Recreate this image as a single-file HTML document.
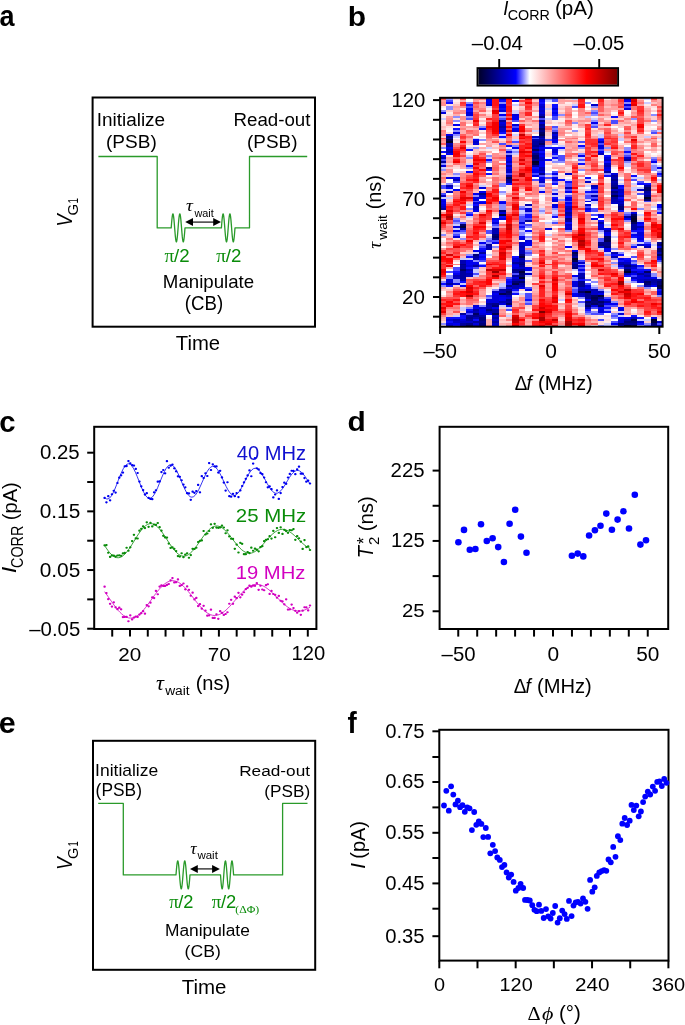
<!DOCTYPE html><html><head><meta charset="utf-8"><style>html,body{margin:0;padding:0;background:#fff;overflow:hidden}svg{display:block;will-change:transform}</style></head><body><svg width="685" height="1025" viewBox="0 0 685 1025" font-family='"Liberation Sans", sans-serif'><text transform="translate(-0.61,26.30) scale(0.8919,1)" font-size="30.32" fill="#000" font-weight="bold">a</text>
<text transform="translate(347.76,26.02) scale(1.0515,1)" font-size="28.44" fill="#000" font-weight="bold">b</text>
<text transform="translate(-0.77,431.50) scale(0.9853,1)" font-size="29.77" fill="#000" font-weight="bold">c</text>
<text transform="translate(347.50,431.41) scale(1.0465,1)" font-size="28.57" fill="#000" font-weight="bold">d</text>
<text transform="translate(-1.22,732.70) scale(1.0296,1)" font-size="29.59" fill="#000" font-weight="bold">e</text>
<text transform="translate(347.61,732.80) scale(0.9569,1)" font-size="28.97" fill="#000" font-weight="bold">f</text>
<rect x="92.60" y="97.50" width="222.40" height="229.20" fill="none" stroke="#000" stroke-width="2.00"/>
<text transform="translate(96.64,126.22) scale(1.0649,1)" font-size="17.82" fill="#000">Initialize</text>
<text transform="translate(106.01,148.42) scale(1.0453,1)" font-size="18.23" fill="#000">(PSB)</text>
<text transform="translate(233.45,126.22) scale(1.0517,1)" font-size="17.82" fill="#000">Read-out</text>
<text transform="translate(247.02,148.42) scale(1.0389,1)" font-size="18.23" fill="#000">(PSB)</text>
<path d="M98.4,156.5 H157.2 V227.9 H171.2 L171.20,227.90 L171.54,223.57 L171.89,219.67 L172.23,216.57 L172.58,214.59 L172.92,213.90 L173.27,214.59 L173.61,216.57 L173.96,219.67 L174.30,223.57 L174.65,227.90 L175.00,232.23 L175.34,236.13 L175.69,239.23 L176.03,241.21 L176.38,241.90 L176.72,241.21 L177.06,239.23 L177.41,236.13 L177.75,232.23 L178.10,227.90 L178.44,223.57 L178.79,219.67 L179.13,216.57 L179.48,214.59 L179.82,213.90 L180.17,214.59 L180.51,216.57 L180.86,219.67 L181.20,223.57 L181.55,227.90 L181.90,232.23 L182.24,236.13 L182.59,239.23 L182.93,241.21 L183.28,241.90 L183.62,241.21 L183.97,239.23 L184.31,236.13 L184.66,232.23 L185.00,227.90 H221.4 L221.40,227.90 L221.74,223.57 L222.08,219.67 L222.42,216.57 L222.76,214.59 L223.10,213.90 L223.44,214.59 L223.78,216.57 L224.12,219.67 L224.46,223.57 L224.80,227.90 L225.14,232.23 L225.48,236.13 L225.82,239.23 L226.16,241.21 L226.50,241.90 L226.84,241.21 L227.18,239.23 L227.52,236.13 L227.86,232.23 L228.20,227.90 L228.54,223.57 L228.88,219.67 L229.22,216.57 L229.56,214.59 L229.90,213.90 L230.24,214.59 L230.58,216.57 L230.92,219.67 L231.26,223.57 L231.60,227.90 L231.94,232.23 L232.28,236.13 L232.62,239.23 L232.96,241.21 L233.30,241.90 L233.64,241.21 L233.98,239.23 L234.32,236.13 L234.66,232.23 L235.00,227.90 H249.5 V156.5 H307.2" fill="none" stroke="#2a9a2a" stroke-width="1.3" stroke-linejoin="round"/>
<line x1="192.00" y1="222.10" x2="214.20" y2="222.10" stroke="#222" stroke-width="1.3"/>
<path d="M185.20,222.10 L193.00,218.10 L193.00,226.10 Z M221.00,222.10 L213.20,218.10 L213.20,226.10 Z" fill="#000"/>
<text transform="translate(186.07,210.93) scale(1.1410,1)" font-size="16.81" fill="#000" font-family="Liberation Serif" font-style="italic">τ</text>
<text transform="translate(194.43,216.79) scale(0.9880,1)" font-size="11.02" fill="#000">wait</text>
<text transform="translate(164.56,261.51) scale(1.0062,1)" font-size="19.15" fill="#0a8c0a" font-family="Liberation Serif">π</text>
<text transform="translate(174.00,261.51) scale(1.0010,1)" font-size="18.64" fill="#0a8c0a">/2</text>
<text transform="translate(216.36,261.51) scale(1.0062,1)" font-size="19.15" fill="#0a8c0a" font-family="Liberation Serif">π</text>
<text transform="translate(225.80,261.51) scale(1.0010,1)" font-size="18.64" fill="#0a8c0a">/2</text>
<text transform="translate(162.86,288.25) scale(1.0620,1)" font-size="17.59" fill="#000">Manipulate</text>
<text transform="translate(184.84,310.45) scale(0.9545,1)" font-size="19.52" fill="#000">(CB)</text>
<text transform="translate(175.84,350.21) scale(1.0499,1)" font-size="19.32" fill="#000">Time</text>
<text transform="translate(71.90,226.65) rotate(-90) scale(0.8702,1)" font-size="21.67" fill="#000" font-style="italic">V</text>
<text transform="translate(77.75,215.45) rotate(-90) scale(0.9931,1)" font-size="15.12" fill="#000">G</text>
<text transform="translate(77.70,203.53) rotate(-90) scale(0.6813,1)" font-size="14.25" fill="#000">1</text>
<rect x="93.00" y="740.80" width="222.20" height="229.00" fill="none" stroke="#000" stroke-width="2.00"/>
<text transform="translate(95.08,776.23) scale(1.0199,1)" font-size="17.14" fill="#000">Initialize</text>
<text transform="translate(95.61,796.22) scale(0.9527,1)" font-size="18.23" fill="#000">(PSB)</text>
<text transform="translate(239.18,775.65) scale(1.1206,1)" font-size="15.37" fill="#000">Read-out</text>
<text transform="translate(264.33,796.81) scale(1.0199,1)" font-size="16.84" fill="#000">(PSB)</text>
<path d="M98.2,803.4 H123.3 V874.9 H176.0 L176.00,874.90 L176.35,870.57 L176.70,866.67 L177.05,863.57 L177.40,861.59 L177.75,860.90 L178.10,861.59 L178.45,863.57 L178.80,866.67 L179.15,870.57 L179.50,874.90 L179.85,879.23 L180.20,883.13 L180.55,886.23 L180.90,888.21 L181.25,888.90 L181.60,888.21 L181.95,886.23 L182.30,883.13 L182.65,879.23 L183.00,874.90 L183.35,870.57 L183.70,866.67 L184.05,863.57 L184.40,861.59 L184.75,860.90 L185.10,861.59 L185.45,863.57 L185.80,866.67 L186.15,870.57 L186.50,874.90 L186.85,879.23 L187.20,883.13 L187.55,886.23 L187.90,888.21 L188.25,888.90 L188.60,888.21 L188.95,886.23 L189.30,883.13 L189.65,879.23 L190.00,874.90 H220.5 L220.50,874.90 L220.83,879.23 L221.16,883.13 L221.48,886.23 L221.81,888.21 L222.14,888.90 L222.47,888.21 L222.79,886.23 L223.12,883.13 L223.45,879.23 L223.78,874.90 L224.10,870.57 L224.43,866.67 L224.76,863.57 L225.09,861.59 L225.41,860.90 L225.74,861.59 L226.07,863.57 L226.40,866.67 L226.72,870.57 L227.05,874.90 L227.38,879.23 L227.70,883.13 L228.03,886.23 L228.36,888.21 L228.69,888.90 L229.01,888.21 L229.34,886.23 L229.67,883.13 L230.00,879.23 L230.32,874.90 L230.65,870.57 L230.98,866.67 L231.31,863.57 L231.63,861.59 L231.96,860.90 L232.29,861.59 L232.62,863.57 L232.94,866.67 L233.27,870.57 L233.60,874.90 H282.6 V803.4 H307.5" fill="none" stroke="#2a9a2a" stroke-width="1.3" stroke-linejoin="round"/>
<line x1="196.80" y1="868.90" x2="213.10" y2="868.90" stroke="#222" stroke-width="1.3"/>
<path d="M190.00,868.90 L197.80,864.90 L197.80,872.90 Z M219.90,868.90 L212.10,864.90 L212.10,872.90 Z" fill="#000"/>
<text transform="translate(190.20,853.83) scale(1.0207,1)" font-size="17.45" fill="#000" font-family="Liberation Serif" font-style="italic">τ</text>
<text transform="translate(197.43,859.48) scale(0.9952,1)" font-size="11.56" fill="#000">wait</text>
<text transform="translate(169.27,908.21) scale(0.9956,1)" font-size="18.51" fill="#0a8c0a" font-family="Liberation Serif">π</text>
<text transform="translate(178.30,908.22) scale(1.0099,1)" font-size="18.10" fill="#0a8c0a">/2</text>
<text transform="translate(211.76,908.21) scale(1.0182,1)" font-size="18.51" fill="#0a8c0a" font-family="Liberation Serif">π</text>
<text transform="translate(221.00,908.22) scale(1.0170,1)" font-size="18.10" fill="#0a8c0a">/2</text>
<text transform="translate(235.30,912.81) scale(1.0894,1)" font-size="10.80" fill="#0a8c0a" font-family="Liberation Serif">(ΔΦ)</text>
<text transform="translate(164.97,936.40) scale(1.0578,1)" font-size="16.41" fill="#000">Manipulate</text>
<text transform="translate(184.60,957.12) scale(1.0190,1)" font-size="17.27" fill="#000">(CB)</text>
<text transform="translate(181.64,994.41) scale(1.0621,1)" font-size="19.32" fill="#000">Time</text>
<text transform="translate(71.90,870.06) rotate(-90) scale(0.8772,1)" font-size="21.67" fill="#000" font-style="italic">V</text>
<text transform="translate(77.75,859.04) rotate(-90) scale(0.9550,1)" font-size="15.41" fill="#000">G</text>
<text transform="translate(77.70,846.59) rotate(-90) scale(0.6488,1)" font-size="14.25" fill="#000">1</text>
<defs><linearGradient id="cbar" x1="0" x2="1" y1="0" y2="0"><stop offset="0.000" stop-color="rgb(0,0,40)"/><stop offset="0.270" stop-color="rgb(0,0,255)"/><stop offset="0.370" stop-color="rgb(255,255,255)"/><stop offset="0.780" stop-color="rgb(255,0,0)"/><stop offset="1.000" stop-color="rgb(128,0,0)"/></linearGradient></defs>
<path d="M446 141h7v2h-7zM519 277h6v2h-6zM532 161h7v2h-7zM572 258h6v2h-6zM585 291h6v2h-6zM624 271h7v2h-7zM624 325h7v1h-7zM631 218h6v2h-6zM631 220h6v2h-6zM644 197h7v2h-7zM651 319h6v2h-6z" fill="rgb(0,0,40)" shape-rendering="crispEdges"/>
<path d="M460 226h6v2h-6zM499 214h7v2h-7zM519 256h6v2h-6zM519 271h6v2h-6zM532 163h7v2h-7zM598 295h6v2h-6zM631 216h6v2h-6zM651 321h6v2h-6z" fill="rgb(0,0,60)" shape-rendering="crispEdges"/>
<path d="M446 139h7v2h-7zM492 313h7v2h-7zM499 293h7v2h-7zM506 177h6v2h-6zM512 283h7v2h-7zM539 134h6v2h-6zM572 252h6v2h-6zM572 260h6v2h-6zM591 297h7v2h-7zM604 240h7v2h-7zM611 195h7v2h-7zM631 319h6v2h-6zM631 325h6v1h-6zM657 285h5v2h-5z" fill="rgb(0,0,80)" shape-rendering="crispEdges"/>
<path d="M460 224h6v2h-6zM460 269h6v2h-6zM466 325h7v1h-7zM473 313h6v2h-6zM492 236h7v2h-7zM506 291h6v2h-6zM506 303h6v2h-6zM519 273h6v2h-6zM519 281h6v2h-6zM532 149h7v2h-7zM532 155h7v2h-7zM532 157h7v2h-7zM539 128h6v2h-6zM539 132h6v2h-6zM539 143h6v2h-6zM578 291h7v2h-7zM585 301h6v2h-6zM585 305h6v2h-6zM591 295h7v2h-7zM591 299h7v2h-7zM591 303h7v2h-7zM598 301h6v2h-6zM598 305h6v2h-6zM604 236h7v2h-7zM604 238h7v2h-7zM611 187h7v2h-7zM624 269h7v2h-7zM631 214h6v2h-6zM631 222h6v2h-6zM644 187h7v2h-7zM644 189h7v2h-7zM644 199h7v2h-7zM644 271h7v2h-7zM644 281h7v2h-7zM657 248h5v2h-5zM657 254h5v2h-5zM657 287h5v2h-5z" fill="rgb(0,0,100)" shape-rendering="crispEdges"/>
<path d="M446 136h7v2h-7zM473 254h6v2h-6zM479 317h7v2h-7zM479 319h7v2h-7zM479 323h7v2h-7zM479 325h7v1h-7zM486 309h6v2h-6zM492 234h7v2h-7zM492 305h7v2h-7zM499 210h7v2h-7zM506 293h6v2h-6zM512 281h7v2h-7zM519 254h6v2h-6zM519 264h6v1h-6zM519 275h6v2h-6zM539 116h6v2h-6zM572 254h6v2h-6zM572 267h6v2h-6zM591 301h7v2h-7zM598 244h6v2h-6zM604 246h7v2h-7zM611 191h7v2h-7zM618 206h6v2h-6zM618 208h6v2h-6zM618 323h6v2h-6zM624 265h7v2h-7zM624 321h7v2h-7zM631 321h6v2h-6zM644 283h7v2h-7zM651 323h6v2h-6zM657 244h5v2h-5zM657 250h5v2h-5zM657 281h5v2h-5zM657 283h5v2h-5z" fill="rgb(0,0,120)" shape-rendering="crispEdges"/>
<path d="M460 264h6v1h-6zM466 317h7v2h-7zM466 323h7v2h-7zM473 315h6v2h-6zM479 193h7v2h-7zM479 321h7v2h-7zM486 167h6v2h-6zM492 238h7v2h-7zM492 303h7v2h-7zM506 179h6v2h-6zM506 285h6v2h-6zM506 289h6v2h-6zM506 299h6v2h-6zM512 269h7v2h-7zM519 262h6v2h-6zM519 269h6v2h-6zM532 145h7v2h-7zM532 153h7v2h-7zM532 159h7v2h-7zM539 120h6v2h-6zM539 124h6v2h-6zM539 130h6v2h-6zM539 136h6v2h-6zM539 141h6v2h-6zM539 173h6v2h-6zM565 218h7v2h-7zM572 264h6v1h-6zM572 265h6v2h-6zM578 281h7v2h-7zM578 283h7v2h-7zM578 285h7v2h-7zM585 293h6v2h-6zM585 295h6v2h-6zM585 297h6v2h-6zM585 303h6v2h-6zM598 242h6v2h-6zM598 297h6v2h-6zM598 303h6v2h-6zM604 242h7v2h-7zM604 244h7v2h-7zM611 179h7v2h-7zM611 185h7v2h-7zM624 323h7v2h-7zM631 323h6v2h-6zM644 195h7v2h-7z" fill="rgb(0,0,140)" shape-rendering="crispEdges"/>
<path d="M440 161h6v2h-6zM440 208h6v2h-6zM446 138h7v1h-7zM446 145h7v2h-7zM446 283h7v2h-7zM460 228h6v2h-6zM460 265h6v2h-6zM460 267h6v2h-6zM460 271h6v2h-6zM460 273h6v2h-6zM460 275h6v2h-6zM460 277h6v2h-6zM460 313h6v2h-6zM460 323h6v2h-6zM466 315h7v2h-7zM466 319h7v2h-7zM473 256h6v2h-6zM473 265h6v2h-6zM473 309h6v2h-6zM473 321h6v2h-6zM479 252h7v2h-7zM479 315h7v2h-7zM486 244h6v2h-6zM486 303h6v2h-6zM492 309h7v2h-7zM492 311h7v2h-7zM492 317h7v2h-7zM492 321h7v2h-7zM499 120h7v2h-7zM499 126h7v2h-7zM499 289h7v2h-7zM506 175h6v2h-6zM506 181h6v2h-6zM506 301h6v2h-6zM512 262h7v2h-7zM512 271h7v2h-7zM512 275h7v2h-7zM519 258h6v2h-6zM519 265h6v2h-6zM519 283h6v2h-6zM525 220h7v2h-7zM532 141h7v2h-7zM532 143h7v2h-7zM532 165h7v2h-7zM539 126h6v2h-6zM539 139h6v2h-6zM552 132h6v2h-6zM565 212h7v2h-7zM565 220h7v2h-7zM572 256h6v2h-6zM578 277h7v2h-7zM598 222h6v2h-6zM604 171h7v2h-7zM604 230h7v2h-7zM604 301h7v2h-7zM611 175h7v2h-7zM611 183h7v2h-7zM611 193h7v2h-7zM611 197h7v2h-7zM618 204h6v2h-6zM618 264h6v1h-6zM624 159h7v2h-7zM624 216h7v2h-7zM624 264h7v1h-7zM624 319h7v2h-7zM631 224h6v2h-6zM631 226h6v2h-6zM631 228h6v2h-6zM637 273h7v2h-7zM644 185h7v2h-7zM644 191h7v2h-7zM644 275h7v2h-7zM651 279h6v2h-6zM651 281h6v2h-6zM651 325h6v1h-6zM657 242h5v2h-5zM657 279h5v2h-5z" fill="rgb(0,0,159)" shape-rendering="crispEdges"/>
<path d="M440 157h6v2h-6zM446 143h7v2h-7zM446 151h7v2h-7zM446 185h7v2h-7zM453 179h7v2h-7zM453 275h7v2h-7zM453 319h7v2h-7zM460 260h6v2h-6zM460 262h6v2h-6zM460 279h6v2h-6zM460 325h6v1h-6zM466 269h7v2h-7zM466 273h7v2h-7zM473 206h6v2h-6zM473 258h6v2h-6zM473 311h6v2h-6zM473 317h6v2h-6zM473 325h6v1h-6zM486 246h6v2h-6zM486 248h6v2h-6zM486 305h6v2h-6zM486 307h6v2h-6zM486 311h6v2h-6zM492 228h7v2h-7zM492 230h7v2h-7zM492 232h7v2h-7zM499 291h7v2h-7zM499 301h7v2h-7zM506 155h6v2h-6zM506 165h6v2h-6zM506 295h6v2h-6zM512 279h7v2h-7zM512 285h7v2h-7zM512 287h7v2h-7zM519 246h6v2h-6zM519 250h6v2h-6zM519 252h6v2h-6zM519 260h6v2h-6zM519 279h6v2h-6zM519 285h6v2h-6zM525 204h7v2h-7zM532 139h7v2h-7zM532 147h7v2h-7zM539 114h6v2h-6zM539 145h6v2h-6zM539 167h6v2h-6zM539 169h6v2h-6zM552 136h6v2h-6zM552 138h6v1h-6zM565 187h7v2h-7zM565 208h7v2h-7zM565 214h7v2h-7zM572 262h6v2h-6zM578 273h7v2h-7zM578 275h7v2h-7zM578 289h7v2h-7zM578 293h7v2h-7zM585 289h6v2h-6zM585 307h6v2h-6zM591 185h7v2h-7zM591 195h7v2h-7zM591 289h7v2h-7zM598 153h6v2h-6zM598 291h6v2h-6zM604 165h7v2h-7zM611 177h7v2h-7zM611 181h7v2h-7zM611 199h7v2h-7zM611 201h7v1h-7zM611 252h7v2h-7zM611 256h7v2h-7zM618 195h6v2h-6zM618 201h6v1h-6zM618 262h6v2h-6zM618 325h6v1h-6zM624 98h7v2h-7zM624 267h7v2h-7zM624 273h7v2h-7zM631 265h6v2h-6zM631 271h6v2h-6zM631 317h6v2h-6zM637 226h7v2h-7zM644 193h7v2h-7zM644 246h7v2h-7zM644 279h7v2h-7zM644 285h7v2h-7zM651 283h6v2h-6zM657 252h5v2h-5z" fill="rgb(0,0,179)" shape-rendering="crispEdges"/>
<path d="M440 195h6v2h-6zM440 206h6v2h-6zM446 149h7v2h-7zM446 191h7v2h-7zM446 325h7v1h-7zM453 277h7v2h-7zM453 321h7v2h-7zM460 321h6v2h-6zM466 275h7v2h-7zM466 321h7v2h-7zM473 141h6v2h-6zM473 208h6v2h-6zM479 195h7v2h-7zM479 307h7v2h-7zM486 98h6v2h-6zM486 104h6v2h-6zM492 291h7v2h-7zM492 315h7v2h-7zM492 319h7v2h-7zM492 323h7v2h-7zM499 124h7v2h-7zM499 128h7v2h-7zM506 161h6v2h-6zM506 169h6v2h-6zM506 171h6v2h-6zM519 242h6v2h-6zM519 244h6v2h-6zM519 248h6v2h-6zM519 267h6v2h-6zM525 210h7v2h-7zM525 273h7v2h-7zM532 136h7v2h-7zM532 151h7v2h-7zM539 98h6v2h-6zM539 106h6v2h-6zM539 110h6v2h-6zM539 138h6v1h-6zM539 149h6v2h-6zM539 157h6v2h-6zM539 159h6v2h-6zM539 181h6v2h-6zM565 173h7v2h-7zM565 206h7v2h-7zM565 224h7v2h-7zM565 228h7v2h-7zM578 262h7v2h-7zM578 287h7v2h-7zM578 295h7v2h-7zM585 181h6v2h-6zM585 204h6v2h-6zM591 104h7v2h-7zM591 291h7v2h-7zM591 293h7v2h-7zM598 141h6v2h-6zM598 228h6v2h-6zM598 246h6v2h-6zM598 299h6v2h-6zM604 159h7v2h-7zM604 163h7v2h-7zM611 189h7v2h-7zM611 202h7v2h-7zM618 189h6v2h-6zM618 191h6v2h-6zM618 202h6v2h-6zM624 157h7v2h-7zM624 262h7v2h-7zM631 277h6v2h-6zM637 189h7v2h-7zM637 244h7v2h-7zM637 279h7v2h-7zM644 273h7v2h-7zM657 256h5v2h-5zM657 321h5v2h-5z" fill="rgb(0,0,199)" shape-rendering="crispEdges"/>
<path d="M440 112h6v2h-6zM440 165h6v2h-6zM440 201h6v1h-6zM440 204h6v2h-6zM446 177h7v2h-7zM446 279h7v2h-7zM446 281h7v2h-7zM446 319h7v2h-7zM446 323h7v2h-7zM453 132h7v2h-7zM453 226h7v2h-7zM453 236h7v2h-7zM453 283h7v2h-7zM460 319h6v2h-6zM466 112h7v2h-7zM466 114h7v2h-7zM466 265h7v2h-7zM466 271h7v2h-7zM466 311h7v2h-7zM473 143h6v2h-6zM473 197h6v2h-6zM473 199h6v2h-6zM473 202h6v2h-6zM473 264h6v1h-6zM473 305h6v2h-6zM473 323h6v2h-6zM479 187h7v2h-7zM479 313h7v2h-7zM486 299h6v2h-6zM486 301h6v2h-6zM492 218h7v2h-7zM492 222h7v2h-7zM492 295h7v2h-7zM492 297h7v2h-7zM492 299h7v2h-7zM492 301h7v2h-7zM492 325h7v1h-7zM499 98h7v2h-7zM499 110h7v2h-7zM499 122h7v2h-7zM499 130h7v2h-7zM499 212h7v2h-7zM499 295h7v2h-7zM499 303h7v2h-7zM506 151h6v2h-6zM506 287h6v2h-6zM506 297h6v2h-6zM512 114h7v2h-7zM512 124h7v2h-7zM512 130h7v2h-7zM512 258h7v2h-7zM512 260h7v2h-7zM512 264h7v1h-7zM512 267h7v2h-7zM512 277h7v2h-7zM519 222h6v2h-6zM519 238h6v2h-6zM525 208h7v2h-7zM525 240h7v2h-7zM539 104h6v2h-6zM539 108h6v2h-6zM539 112h6v2h-6zM539 122h6v2h-6zM539 153h6v2h-6zM539 171h6v2h-6zM539 179h6v2h-6zM545 228h7v2h-7zM552 108h6v2h-6zM552 134h6v2h-6zM552 149h6v2h-6zM552 151h6v2h-6zM552 179h6v2h-6zM552 193h6v2h-6zM552 201h6v1h-6zM552 204h6v2h-6zM565 210h7v2h-7zM565 226h7v2h-7zM572 281h6v2h-6zM572 283h6v2h-6zM572 285h6v2h-6zM585 201h6v1h-6zM585 208h6v2h-6zM585 285h6v2h-6zM591 187h7v2h-7zM591 199h7v2h-7zM591 305h7v2h-7zM598 145h6v2h-6zM598 147h6v2h-6zM598 214h6v2h-6zM598 224h6v2h-6zM598 226h6v2h-6zM598 309h6v2h-6zM598 311h6v2h-6zM604 157h7v2h-7zM604 167h7v2h-7zM604 232h7v2h-7zM611 173h7v2h-7zM618 193h6v2h-6zM618 199h6v2h-6zM618 265h6v2h-6zM618 309h6v2h-6zM618 313h6v2h-6zM618 319h6v2h-6zM618 321h6v2h-6zM624 104h7v2h-7zM624 108h7v2h-7zM631 212h6v2h-6zM631 267h6v2h-6zM637 232h7v2h-7zM637 234h7v2h-7zM637 238h7v2h-7zM637 275h7v2h-7zM637 277h7v2h-7zM637 281h7v2h-7zM637 321h7v2h-7zM644 277h7v2h-7zM657 246h5v2h-5zM657 291h5v2h-5zM657 293h5v2h-5z" fill="rgb(0,0,219)" shape-rendering="crispEdges"/>
<path d="M440 155h6v2h-6zM440 199h6v2h-6zM440 202h6v2h-6zM446 134h7v2h-7zM446 147h7v2h-7zM446 153h7v2h-7zM446 187h7v2h-7zM453 124h7v2h-7zM453 177h7v2h-7zM453 189h7v2h-7zM453 230h7v2h-7zM453 273h7v2h-7zM453 323h7v2h-7zM460 285h6v2h-6zM466 108h7v2h-7zM466 260h7v2h-7zM466 262h7v2h-7zM466 264h7v1h-7zM473 139h6v2h-6zM473 193h6v2h-6zM473 210h6v2h-6zM473 250h6v2h-6zM473 262h6v2h-6zM473 307h6v2h-6zM479 191h7v2h-7zM479 197h7v2h-7zM479 202h7v2h-7zM479 242h7v2h-7zM479 250h7v2h-7zM479 256h7v2h-7zM479 309h7v2h-7zM479 311h7v2h-7zM486 100h6v2h-6zM486 102h6v2h-6zM486 313h6v2h-6zM492 242h7v2h-7zM492 293h7v2h-7zM492 307h7v2h-7zM499 104h7v2h-7zM499 106h7v2h-7zM499 114h7v2h-7zM499 202h7v2h-7zM499 218h7v2h-7zM499 297h7v2h-7zM499 299h7v2h-7zM506 157h6v2h-6zM506 159h6v2h-6zM506 167h6v2h-6zM506 281h6v2h-6zM506 305h6v2h-6zM512 100h7v2h-7zM512 116h7v2h-7zM512 118h7v2h-7zM512 128h7v2h-7zM512 147h7v2h-7zM512 265h7v2h-7zM519 236h6v2h-6zM519 287h6v2h-6zM525 242h7v2h-7zM525 244h7v2h-7zM525 267h7v2h-7zM525 269h7v2h-7zM525 289h7v2h-7zM532 169h7v2h-7zM532 171h7v2h-7zM532 175h7v2h-7zM539 100h6v2h-6zM539 147h6v2h-6zM539 155h6v2h-6zM539 161h6v2h-6zM539 163h6v2h-6zM539 165h6v2h-6zM539 177h6v2h-6zM539 191h6v2h-6zM552 112h6v2h-6zM552 139h6v2h-6zM552 141h6v2h-6zM552 173h6v2h-6zM552 177h6v2h-6zM552 199h6v2h-6zM552 206h6v2h-6zM565 191h7v2h-7zM565 197h7v2h-7zM565 199h7v2h-7zM565 202h7v2h-7zM565 216h7v2h-7zM565 246h7v2h-7zM572 250h6v2h-6zM572 275h6v2h-6zM572 293h6v2h-6zM572 295h6v2h-6zM578 155h7v2h-7zM578 265h7v2h-7zM578 269h7v2h-7zM585 287h6v2h-6zM585 299h6v2h-6zM591 122h7v2h-7zM591 191h7v2h-7zM591 218h7v2h-7zM598 151h6v2h-6zM598 216h6v2h-6zM598 293h6v2h-6zM598 307h6v2h-6zM604 169h7v2h-7zM604 228h7v2h-7zM604 234h7v2h-7zM604 248h7v2h-7zM604 250h7v2h-7zM604 299h7v2h-7zM604 303h7v2h-7zM611 303h7v2h-7zM611 323h7v2h-7zM618 185h6v2h-6zM618 258h6v2h-6zM618 307h6v2h-6zM618 317h6v2h-6zM624 100h7v2h-7zM624 218h7v2h-7zM624 260h7v2h-7zM624 317h7v2h-7zM631 234h6v2h-6zM631 273h6v2h-6zM637 222h7v2h-7zM637 228h7v2h-7zM637 236h7v2h-7zM637 271h7v2h-7zM644 244h7v2h-7zM651 161h6v2h-6zM651 277h6v2h-6zM651 285h6v2h-6zM651 317h6v2h-6zM657 167h5v2h-5zM657 204h5v2h-5zM657 206h5v2h-5zM657 258h5v2h-5zM657 325h5v1h-5z" fill="rgb(0,0,239)" shape-rendering="crispEdges"/>
<path d="M440 151h6v2h-6zM440 283h6v2h-6zM446 102h7v2h-7zM446 285h7v2h-7zM446 317h7v2h-7zM446 321h7v2h-7zM453 128h7v2h-7zM453 271h7v2h-7zM453 317h7v2h-7zM453 325h7v1h-7zM460 281h6v2h-6zM460 315h6v2h-6zM460 317h6v2h-6zM466 104h7v2h-7zM466 110h7v2h-7zM466 149h7v2h-7zM466 165h7v2h-7zM466 171h7v2h-7zM466 214h7v2h-7zM466 256h7v2h-7zM466 267h7v2h-7zM466 309h7v2h-7zM473 204h6v2h-6zM473 319h6v2h-6zM479 128h7v2h-7zM479 201h7v1h-7zM479 248h7v2h-7zM479 254h7v2h-7zM479 258h7v2h-7zM479 265h7v2h-7zM486 159h6v2h-6zM486 169h6v2h-6zM486 173h6v2h-6zM492 220h7v2h-7zM499 100h7v2h-7zM499 108h7v2h-7zM499 132h7v2h-7zM499 136h7v2h-7zM499 201h7v1h-7zM499 216h7v2h-7zM506 145h6v2h-6zM506 163h6v2h-6zM506 183h6v2h-6zM506 279h6v2h-6zM506 283h6v2h-6zM512 256h7v2h-7zM512 289h7v2h-7zM512 293h7v2h-7zM519 226h6v2h-6zM525 214h7v2h-7zM525 216h7v2h-7zM525 230h7v2h-7zM525 299h7v2h-7zM532 167h7v2h-7zM539 102h6v2h-6zM539 151h6v2h-6zM545 147h7v2h-7zM545 159h7v2h-7zM552 104h6v2h-6zM552 106h6v2h-6zM552 110h6v2h-6zM552 114h6v2h-6zM552 147h6v2h-6zM552 153h6v2h-6zM552 157h6v2h-6zM552 183h6v2h-6zM552 197h6v2h-6zM552 216h6v2h-6zM558 147h7v2h-7zM558 179h7v2h-7zM565 181h7v2h-7zM565 204h7v2h-7zM565 222h7v2h-7zM578 145h7v2h-7zM578 163h7v2h-7zM578 279h7v2h-7zM585 177h6v2h-6zM585 191h6v2h-6zM585 210h6v2h-6zM585 309h6v2h-6zM598 139h6v2h-6zM598 220h6v2h-6zM604 155h7v2h-7zM604 161h7v2h-7zM604 175h7v2h-7zM604 307h7v2h-7zM604 311h7v2h-7zM611 116h7v2h-7zM611 254h7v2h-7zM618 187h6v2h-6zM618 197h6v2h-6zM618 210h6v2h-6zM618 254h6v2h-6zM618 260h6v2h-6zM624 151h7v2h-7zM624 258h7v2h-7zM624 275h7v2h-7zM631 175h6v2h-6zM631 230h6v2h-6zM631 236h6v2h-6zM631 246h6v2h-6zM631 264h6v1h-6zM631 269h6v2h-6zM631 279h6v2h-6zM631 315h6v2h-6zM637 183h7v2h-7zM637 224h7v2h-7zM637 230h7v2h-7zM637 240h7v2h-7zM637 265h7v2h-7zM637 269h7v2h-7zM637 317h7v2h-7zM637 323h7v2h-7zM644 183h7v2h-7zM644 269h7v2h-7zM657 173h5v2h-5zM657 212h5v2h-5zM657 289h5v2h-5z" fill="rgb(13,13,255)" shape-rendering="crispEdges"/>
<path d="M440 159h6v2h-6zM440 185h6v2h-6zM440 187h6v2h-6zM440 193h6v2h-6zM446 100h7v2h-7zM446 271h7v2h-7zM453 181h7v2h-7zM453 220h7v2h-7zM453 234h7v2h-7zM453 267h7v2h-7zM453 269h7v2h-7zM460 222h6v2h-6zM460 230h6v2h-6zM466 106h7v2h-7zM466 118h7v2h-7zM466 212h7v2h-7zM466 313h7v2h-7zM473 201h6v1h-6zM473 267h6v2h-6zM473 273h6v2h-6zM479 246h7v2h-7zM479 260h7v2h-7zM486 230h6v2h-6zM486 232h6v2h-6zM486 240h6v2h-6zM486 295h6v2h-6zM492 224h7v2h-7zM492 240h7v2h-7zM499 118h7v2h-7zM499 143h7v2h-7zM506 173h6v2h-6zM506 277h6v2h-6zM506 309h6v2h-6zM512 120h7v2h-7zM512 126h7v2h-7zM512 141h7v2h-7zM512 273h7v2h-7zM519 208h6v2h-6zM519 216h6v2h-6zM519 218h6v2h-6zM519 220h6v2h-6zM519 224h6v2h-6zM519 228h6v2h-6zM525 218h7v2h-7zM525 224h7v2h-7zM525 252h7v2h-7zM525 260h7v2h-7zM525 287h7v2h-7zM525 293h7v2h-7zM525 295h7v2h-7zM525 297h7v2h-7zM525 303h7v2h-7zM532 138h7v1h-7zM532 173h7v2h-7zM532 179h7v2h-7zM539 118h6v2h-6zM539 175h6v2h-6zM539 185h6v2h-6zM545 139h7v2h-7zM545 177h7v2h-7zM552 98h6v2h-6zM552 100h6v2h-6zM552 116h6v2h-6zM552 118h6v2h-6zM552 126h6v2h-6zM552 130h6v2h-6zM552 171h6v2h-6zM552 181h6v2h-6zM552 222h6v2h-6zM558 155h7v2h-7zM558 157h7v2h-7zM558 159h7v2h-7zM565 183h7v2h-7zM565 185h7v2h-7zM565 189h7v2h-7zM565 195h7v2h-7zM565 201h7v1h-7zM572 106h6v2h-6zM572 289h6v2h-6zM572 291h6v2h-6zM578 141h7v2h-7zM578 159h7v2h-7zM578 260h7v2h-7zM578 267h7v2h-7zM578 271h7v2h-7zM578 301h7v2h-7zM585 195h6v2h-6zM585 197h6v2h-6zM585 206h6v2h-6zM585 279h6v2h-6zM585 283h6v2h-6zM585 311h6v2h-6zM591 112h7v2h-7zM591 126h7v2h-7zM591 189h7v2h-7zM591 197h7v2h-7zM591 208h7v2h-7zM591 210h7v2h-7zM591 214h7v2h-7zM591 307h7v2h-7zM591 313h7v2h-7zM598 138h6v1h-6zM598 143h6v2h-6zM598 149h6v2h-6zM598 238h6v2h-6zM598 240h6v2h-6zM598 313h6v2h-6zM598 319h6v2h-6zM604 297h7v2h-7zM604 305h7v2h-7zM611 120h7v2h-7zM611 122h7v2h-7zM611 305h7v2h-7zM611 315h7v2h-7zM611 321h7v2h-7zM618 267h6v2h-6zM624 106h7v2h-7zM624 155h7v2h-7zM624 214h7v2h-7zM631 179h6v2h-6zM631 256h6v2h-6zM631 260h6v2h-6zM631 275h6v2h-6zM637 181h7v2h-7zM637 193h7v2h-7zM637 267h7v2h-7zM644 201h7v1h-7zM644 242h7v2h-7zM644 325h7v1h-7zM651 132h6v2h-6zM651 159h6v2h-6zM657 175h5v2h-5zM657 208h5v2h-5zM657 260h5v2h-5zM657 323h5v2h-5z" fill="rgb(76,76,255)" shape-rendering="crispEdges"/>
<path d="M440 110h6v2h-6zM440 147h6v2h-6zM440 163h6v2h-6zM440 169h6v2h-6zM440 234h6v2h-6zM440 281h6v2h-6zM440 285h6v2h-6zM440 323h6v2h-6zM446 98h7v2h-7zM446 106h7v2h-7zM446 108h7v2h-7zM446 183h7v2h-7zM446 275h7v2h-7zM446 277h7v2h-7zM453 116h7v2h-7zM453 120h7v2h-7zM453 130h7v2h-7zM453 134h7v2h-7zM453 173h7v2h-7zM453 218h7v2h-7zM453 222h7v2h-7zM453 232h7v2h-7zM453 279h7v2h-7zM453 281h7v2h-7zM460 232h6v2h-6zM460 238h6v2h-6zM466 102h7v2h-7zM466 116h7v2h-7zM466 157h7v2h-7zM466 167h7v2h-7zM466 208h7v2h-7zM466 254h7v2h-7zM466 307h7v2h-7zM473 147h6v2h-6zM473 195h6v2h-6zM473 260h6v2h-6zM479 126h7v2h-7zM479 139h7v2h-7zM479 244h7v2h-7zM479 264h7v1h-7zM479 305h7v2h-7zM486 155h6v2h-6zM486 161h6v2h-6zM486 238h6v2h-6zM486 242h6v2h-6zM486 297h6v2h-6zM492 226h7v2h-7zM492 246h7v2h-7zM492 289h7v2h-7zM499 102h7v2h-7zM499 116h7v2h-7zM499 183h7v2h-7zM499 185h7v2h-7zM499 191h7v2h-7zM499 204h7v2h-7zM499 206h7v2h-7zM499 208h7v2h-7zM499 287h7v2h-7zM506 149h6v2h-6zM506 153h6v2h-6zM512 145h7v2h-7zM512 151h7v2h-7zM512 291h7v2h-7zM519 206h6v2h-6zM519 214h6v2h-6zM519 232h6v2h-6zM519 234h6v2h-6zM525 212h7v2h-7zM525 226h7v2h-7zM525 236h7v2h-7zM525 250h7v2h-7zM525 254h7v2h-7zM525 301h7v2h-7zM539 183h6v2h-6zM539 210h6v2h-6zM545 98h7v2h-7zM545 173h7v2h-7zM552 128h6v2h-6zM552 143h6v2h-6zM552 155h6v2h-6zM552 161h6v2h-6zM552 175h6v2h-6zM552 189h6v2h-6zM552 208h6v2h-6zM552 214h6v2h-6zM558 114h7v2h-7zM558 161h7v2h-7zM558 199h7v2h-7zM565 230h7v2h-7zM572 122h6v2h-6zM572 130h6v2h-6zM572 277h6v2h-6zM572 279h6v2h-6zM572 287h6v2h-6zM578 147h7v2h-7zM578 153h7v2h-7zM578 169h7v2h-7zM578 264h7v1h-7zM578 297h7v2h-7zM585 102h6v2h-6zM585 193h6v2h-6zM585 313h6v2h-6zM591 106h7v2h-7zM591 110h7v2h-7zM591 114h7v2h-7zM591 120h7v2h-7zM591 124h7v2h-7zM591 193h7v2h-7zM591 281h7v2h-7zM591 287h7v2h-7zM591 311h7v2h-7zM598 230h6v2h-6zM598 289h6v2h-6zM598 325h6v1h-6zM604 147h7v2h-7zM604 173h7v2h-7zM604 254h7v2h-7zM604 309h7v2h-7zM611 248h7v2h-7zM611 258h7v2h-7zM611 262h7v2h-7zM611 301h7v2h-7zM611 313h7v2h-7zM611 317h7v2h-7zM611 325h7v1h-7zM618 252h6v2h-6zM624 102h7v2h-7zM624 147h7v2h-7zM624 149h7v2h-7zM624 153h7v2h-7zM624 161h7v2h-7zM624 212h7v2h-7zM624 220h7v2h-7zM631 118h6v2h-6zM631 232h6v2h-6zM631 244h6v2h-6zM631 262h6v2h-6zM631 281h6v2h-6zM637 208h7v2h-7zM637 285h7v2h-7zM637 325h7v1h-7zM644 287h7v2h-7zM644 323h7v2h-7zM651 114h6v2h-6zM651 120h6v2h-6zM651 130h6v2h-6zM651 157h6v2h-6zM651 165h6v2h-6zM651 167h6v2h-6zM651 169h6v2h-6zM651 273h6v2h-6zM651 275h6v2h-6zM657 171h5v2h-5zM657 210h5v2h-5zM657 295h5v2h-5z" fill="rgb(140,140,255)" shape-rendering="crispEdges"/>
<path d="M440 118h6v2h-6zM440 167h6v2h-6zM440 197h6v2h-6zM446 189h7v2h-7zM446 197h7v2h-7zM453 136h7v2h-7zM453 175h7v2h-7zM453 185h7v2h-7zM453 224h7v2h-7zM453 228h7v2h-7zM453 315h7v2h-7zM460 258h6v2h-6zM460 283h6v2h-6zM460 307h6v2h-6zM460 309h6v2h-6zM466 147h7v2h-7zM466 155h7v2h-7zM466 163h7v2h-7zM466 204h7v2h-7zM466 216h7v2h-7zM466 258h7v2h-7zM473 138h6v1h-6zM473 252h6v2h-6zM473 269h6v2h-6zM473 271h6v2h-6zM473 275h6v2h-6zM479 185h7v2h-7zM479 240h7v2h-7zM486 106h6v2h-6zM486 147h6v2h-6zM486 157h6v2h-6zM486 236h6v2h-6zM486 254h6v2h-6zM499 112h7v2h-7zM499 134h7v2h-7zM499 138h7v1h-7zM499 193h7v2h-7zM499 283h7v2h-7zM499 285h7v2h-7zM499 305h7v2h-7zM506 264h6v1h-6zM506 307h6v2h-6zM506 315h6v2h-6zM512 104h7v2h-7zM512 110h7v2h-7zM512 112h7v2h-7zM512 134h7v2h-7zM512 139h7v2h-7zM512 149h7v2h-7zM512 153h7v2h-7zM519 210h6v2h-6zM519 212h6v2h-6zM519 230h6v2h-6zM519 293h6v2h-6zM525 206h7v2h-7zM525 232h7v2h-7zM525 238h7v2h-7zM525 246h7v2h-7zM525 271h7v2h-7zM525 275h7v2h-7zM532 130h7v2h-7zM539 189h6v2h-6zM539 208h6v2h-6zM539 212h6v2h-6zM545 100h7v2h-7zM545 108h7v2h-7zM545 118h7v2h-7zM545 145h7v2h-7zM545 222h7v2h-7zM545 234h7v2h-7zM552 159h6v2h-6zM552 191h6v2h-6zM552 195h6v2h-6zM552 210h6v2h-6zM552 212h6v2h-6zM552 220h6v2h-6zM558 145h7v2h-7zM558 149h7v2h-7zM558 299h7v2h-7zM565 179h7v2h-7zM565 193h7v2h-7zM572 98h6v2h-6zM572 104h6v2h-6zM572 269h6v2h-6zM578 157h7v2h-7zM578 161h7v2h-7zM578 303h7v2h-7zM578 305h7v2h-7zM585 116h6v2h-6zM585 179h6v2h-6zM585 185h6v2h-6zM585 189h6v2h-6zM585 199h6v2h-6zM585 264h6v1h-6zM591 118h7v2h-7zM591 179h7v2h-7zM591 201h7v1h-7zM591 202h7v2h-7zM591 285h7v2h-7zM598 134h6v2h-6zM598 136h6v2h-6zM598 232h6v2h-6zM598 248h6v2h-6zM604 151h7v2h-7zM604 224h7v2h-7zM604 252h7v2h-7zM604 291h7v2h-7zM604 323h7v2h-7zM604 325h7v1h-7zM611 236h7v2h-7zM611 265h7v2h-7zM618 134h6v2h-6zM618 138h6v1h-6zM618 139h6v2h-6zM618 179h6v2h-6zM618 183h6v2h-6zM618 311h6v2h-6zM618 315h6v2h-6zM624 163h7v2h-7zM624 165h7v2h-7zM624 281h7v2h-7zM631 177h6v2h-6zM631 183h6v2h-6zM631 187h6v2h-6zM631 189h6v2h-6zM631 238h6v2h-6zM637 177h7v2h-7zM637 187h7v2h-7zM637 214h7v2h-7zM637 220h7v2h-7zM637 242h7v2h-7zM637 319h7v2h-7zM644 98h7v2h-7zM644 102h7v2h-7zM644 136h7v2h-7zM644 240h7v2h-7zM644 319h7v2h-7zM651 163h6v2h-6zM651 206h6v2h-6zM651 244h6v2h-6zM657 130h5v2h-5zM657 138h5v1h-5zM657 165h5v2h-5zM657 169h5v2h-5zM657 179h5v2h-5zM657 262h5v2h-5zM657 277h5v2h-5z" fill="rgb(204,204,255)" shape-rendering="crispEdges"/>
<path d="M440 108h6v2h-6zM440 149h6v2h-6zM440 238h6v2h-6zM440 246h6v2h-6zM440 291h6v2h-6zM440 293h6v2h-6zM446 130h7v2h-7zM446 179h7v2h-7zM446 181h7v2h-7zM446 193h7v2h-7zM446 269h7v2h-7zM446 273h7v2h-7zM453 122h7v2h-7zM453 138h7v1h-7zM453 169h7v2h-7zM453 183h7v2h-7zM453 187h7v2h-7zM453 262h7v2h-7zM453 265h7v2h-7zM460 169h6v2h-6zM460 234h6v2h-6zM466 98h7v2h-7zM466 100h7v2h-7zM466 124h7v2h-7zM466 151h7v2h-7zM466 206h7v2h-7zM473 136h6v2h-6zM473 248h6v2h-6zM479 134h7v2h-7zM479 138h7v1h-7zM479 141h7v2h-7zM479 145h7v2h-7zM479 189h7v2h-7zM479 199h7v2h-7zM479 208h7v2h-7zM479 262h7v2h-7zM479 299h7v2h-7zM486 163h6v2h-6zM486 165h6v2h-6zM486 171h6v2h-6zM486 179h6v2h-6zM486 224h6v2h-6zM486 250h6v2h-6zM486 252h6v2h-6zM486 256h6v2h-6zM486 293h6v2h-6zM486 315h6v2h-6zM492 151h7v2h-7zM499 187h7v2h-7zM499 189h7v2h-7zM499 195h7v2h-7zM499 220h7v2h-7zM506 262h6v2h-6zM506 267h6v2h-6zM506 269h6v2h-6zM506 271h6v2h-6zM506 311h6v2h-6zM512 98h7v2h-7zM512 102h7v2h-7zM512 122h7v2h-7zM512 252h7v2h-7zM512 254h7v2h-7zM512 295h7v2h-7zM519 240h6v2h-6zM519 291h6v2h-6zM525 202h7v2h-7zM525 228h7v2h-7zM525 234h7v2h-7zM525 256h7v2h-7zM525 277h7v2h-7zM532 134h7v2h-7zM532 177h7v2h-7zM532 254h7v2h-7zM539 195h6v2h-6zM539 197h6v2h-6zM539 199h6v2h-6zM539 220h6v2h-6zM545 102h7v2h-7zM545 116h7v2h-7zM545 149h7v2h-7zM545 157h7v2h-7zM545 165h7v2h-7zM545 171h7v2h-7zM545 181h7v2h-7zM545 220h7v2h-7zM545 230h7v2h-7zM545 232h7v2h-7zM545 238h7v2h-7zM545 242h7v2h-7zM545 244h7v2h-7zM552 145h6v2h-6zM552 169h6v2h-6zM552 185h6v2h-6zM552 218h6v2h-6zM552 226h6v2h-6zM552 230h6v2h-6zM558 138h7v1h-7zM558 153h7v2h-7zM558 163h7v2h-7zM558 301h7v2h-7zM565 134h7v2h-7zM565 177h7v2h-7zM565 244h7v2h-7zM572 108h6v2h-6zM572 112h6v2h-6zM572 116h6v2h-6zM572 128h6v2h-6zM572 271h6v2h-6zM572 273h6v2h-6zM578 171h7v2h-7zM578 299h7v2h-7zM585 100h6v2h-6zM585 104h6v2h-6zM585 108h6v2h-6zM585 175h6v2h-6zM585 187h6v2h-6zM585 202h6v2h-6zM585 271h6v2h-6zM585 275h6v2h-6zM585 281h6v2h-6zM591 102h7v2h-7zM591 175h7v2h-7zM591 177h7v2h-7zM591 181h7v2h-7zM591 206h7v2h-7zM591 216h7v2h-7zM591 283h7v2h-7zM598 159h6v2h-6zM598 218h6v2h-6zM604 153h7v2h-7zM604 177h7v2h-7zM604 195h7v2h-7zM604 222h7v2h-7zM604 313h7v2h-7zM611 112h7v2h-7zM611 126h7v2h-7zM611 169h7v2h-7zM611 171h7v2h-7zM611 204h7v2h-7zM611 208h7v2h-7zM611 238h7v2h-7zM611 309h7v2h-7zM611 319h7v2h-7zM618 128h6v2h-6zM618 141h6v2h-6zM618 177h6v2h-6zM624 110h7v2h-7zM624 112h7v2h-7zM624 145h7v2h-7zM624 167h7v2h-7zM624 224h7v2h-7zM624 254h7v2h-7zM624 277h7v2h-7zM631 181h6v2h-6zM631 250h6v2h-6zM631 283h6v2h-6zM631 285h6v2h-6zM631 309h6v2h-6zM637 185h7v2h-7zM637 195h7v2h-7zM637 212h7v2h-7zM637 283h7v2h-7zM644 100h7v2h-7zM644 132h7v2h-7zM644 151h7v2h-7zM644 317h7v2h-7zM651 112h6v2h-6zM651 122h6v2h-6zM651 126h6v2h-6zM651 153h6v2h-6zM651 171h6v2h-6zM651 208h6v2h-6zM651 287h6v2h-6zM657 151h5v2h-5zM657 163h5v2h-5zM657 177h5v2h-5zM657 202h5v2h-5z" fill="rgb(255,252,252)" shape-rendering="crispEdges"/>
<path d="M440 106h6v2h-6zM440 114h6v2h-6zM440 116h6v2h-6zM440 120h6v2h-6zM440 153h6v2h-6zM440 240h6v2h-6zM440 325h6v1h-6zM446 112h7v2h-7zM446 128h7v2h-7zM453 100h7v2h-7zM453 126h7v2h-7zM453 141h7v2h-7zM453 171h7v2h-7zM453 214h7v2h-7zM460 114h6v2h-6zM466 145h7v2h-7zM466 153h7v2h-7zM466 169h7v2h-7zM473 145h6v2h-6zM473 246h6v2h-6zM479 118h7v2h-7zM479 122h7v2h-7zM479 130h7v2h-7zM479 206h7v2h-7zM479 303h7v2h-7zM486 108h6v2h-6zM486 112h6v2h-6zM486 149h6v2h-6zM486 153h6v2h-6zM486 175h6v2h-6zM486 228h6v2h-6zM486 234h6v2h-6zM486 289h6v2h-6zM486 291h6v2h-6zM486 317h6v2h-6zM492 149h7v2h-7zM492 216h7v2h-7zM492 244h7v2h-7zM492 287h7v2h-7zM499 161h7v2h-7zM499 197h7v2h-7zM506 147h6v2h-6zM506 185h6v2h-6zM506 187h6v2h-6zM506 189h6v2h-6zM512 106h7v2h-7zM512 108h7v2h-7zM512 132h7v2h-7zM512 250h7v2h-7zM519 193h6v2h-6zM519 201h6v1h-6zM525 197h7v2h-7zM525 222h7v2h-7zM525 258h7v2h-7zM525 264h7v1h-7zM525 279h7v2h-7zM525 285h7v2h-7zM525 291h7v2h-7zM525 309h7v2h-7zM532 112h7v2h-7zM532 114h7v2h-7zM539 201h6v1h-6zM539 202h6v2h-6zM545 124h7v2h-7zM545 167h7v2h-7zM545 169h7v2h-7zM545 214h7v2h-7zM545 248h7v2h-7zM552 102h6v2h-6zM552 120h6v2h-6zM552 124h6v2h-6zM558 118h7v2h-7zM558 120h7v2h-7zM558 141h7v2h-7zM558 151h7v2h-7zM558 173h7v2h-7zM558 226h7v2h-7zM565 102h7v2h-7zM565 130h7v2h-7zM565 238h7v2h-7zM565 242h7v2h-7zM565 248h7v2h-7zM572 114h6v2h-6zM572 124h6v2h-6zM572 126h6v2h-6zM572 159h6v2h-6zM578 128h7v2h-7zM578 132h7v2h-7zM578 134h7v2h-7zM578 138h7v1h-7zM578 177h7v2h-7zM578 187h7v2h-7zM578 307h7v2h-7zM578 311h7v2h-7zM585 267h6v2h-6zM585 277h6v2h-6zM591 116h7v2h-7zM591 204h7v2h-7zM591 212h7v2h-7zM591 279h7v2h-7zM591 309h7v2h-7zM591 325h7v1h-7zM598 155h6v2h-6zM598 157h6v2h-6zM598 163h6v2h-6zM598 234h6v2h-6zM598 315h6v2h-6zM598 317h6v2h-6zM604 179h7v2h-7zM604 181h7v2h-7zM604 189h7v2h-7zM604 289h7v2h-7zM604 293h7v2h-7zM604 317h7v2h-7zM604 321h7v2h-7zM611 114h7v2h-7zM611 167h7v2h-7zM611 206h7v2h-7zM611 232h7v2h-7zM611 234h7v2h-7zM611 240h7v2h-7zM611 244h7v2h-7zM611 250h7v2h-7zM618 130h6v2h-6zM618 181h6v2h-6zM618 250h6v2h-6zM624 114h7v2h-7zM624 171h7v2h-7zM624 202h7v2h-7zM624 204h7v2h-7zM624 210h7v2h-7zM624 226h7v2h-7zM624 252h7v2h-7zM631 173h6v2h-6zM631 240h6v2h-6zM631 254h6v2h-6zM631 258h6v2h-6zM631 311h6v2h-6zM637 175h7v2h-7zM637 197h7v2h-7zM637 201h7v1h-7zM637 204h7v2h-7zM637 210h7v2h-7zM637 246h7v2h-7zM637 264h7v1h-7zM637 315h7v2h-7zM644 104h7v2h-7zM644 126h7v2h-7zM644 128h7v2h-7zM644 143h7v2h-7zM644 147h7v2h-7zM644 159h7v2h-7zM644 181h7v2h-7zM644 238h7v2h-7zM644 256h7v2h-7zM651 108h6v2h-6zM651 128h6v2h-6zM651 155h6v2h-6zM651 246h6v2h-6zM657 139h5v2h-5zM657 143h5v2h-5zM657 147h5v2h-5zM657 153h5v2h-5zM657 240h5v2h-5zM657 264h5v1h-5zM657 265h5v2h-5zM657 319h5v2h-5z" fill="rgb(255,236,236)" shape-rendering="crispEdges"/>
<path d="M440 122h6v2h-6zM440 124h6v2h-6zM440 183h6v2h-6zM440 189h6v2h-6zM440 210h6v2h-6zM440 232h6v2h-6zM440 279h6v2h-6zM440 295h6v2h-6zM440 321h6v2h-6zM446 104h7v2h-7zM446 114h7v2h-7zM446 126h7v2h-7zM446 132h7v2h-7zM446 155h7v2h-7zM446 287h7v2h-7zM453 102h7v2h-7zM453 118h7v2h-7zM453 139h7v2h-7zM453 167h7v2h-7zM453 238h7v2h-7zM453 260h7v2h-7zM460 108h6v2h-6zM460 220h6v2h-6zM460 236h6v2h-6zM460 305h6v2h-6zM460 311h6v2h-6zM466 218h7v2h-7zM473 212h6v2h-6zM473 242h6v2h-6zM479 136h7v2h-7zM479 149h7v2h-7zM479 183h7v2h-7zM486 185h6v2h-6zM486 287h6v2h-6zM492 145h7v2h-7zM492 214h7v2h-7zM499 139h7v2h-7zM499 199h7v2h-7zM499 317h7v2h-7zM506 191h6v2h-6zM512 297h7v2h-7zM519 202h6v2h-6zM519 204h6v2h-6zM525 126h7v2h-7zM525 281h7v2h-7zM525 283h7v2h-7zM525 307h7v2h-7zM532 118h7v2h-7zM532 256h7v2h-7zM532 281h7v2h-7zM539 187h6v2h-6zM539 193h6v2h-6zM539 206h6v2h-6zM539 214h6v2h-6zM545 110h7v2h-7zM545 136h7v2h-7zM545 151h7v2h-7zM545 161h7v2h-7zM545 175h7v2h-7zM545 216h7v2h-7zM545 218h7v2h-7zM552 122h6v2h-6zM552 163h6v2h-6zM552 202h6v2h-6zM558 104h7v2h-7zM558 110h7v2h-7zM558 124h7v2h-7zM558 143h7v2h-7zM558 175h7v2h-7zM558 177h7v2h-7zM558 189h7v2h-7zM558 197h7v2h-7zM558 252h7v2h-7zM558 265h7v2h-7zM558 297h7v2h-7zM565 104h7v2h-7zM565 167h7v2h-7zM565 175h7v2h-7zM565 271h7v2h-7zM572 151h6v2h-6zM572 226h6v2h-6zM572 297h6v2h-6zM572 305h6v2h-6zM578 130h7v2h-7zM578 139h7v2h-7zM578 143h7v2h-7zM578 149h7v2h-7zM578 173h7v2h-7zM578 256h7v2h-7zM578 258h7v2h-7zM578 309h7v2h-7zM585 98h6v2h-6zM585 106h6v2h-6zM585 262h6v2h-6zM585 273h6v2h-6zM591 98h7v2h-7zM591 100h7v2h-7zM591 128h7v2h-7zM591 224h7v2h-7zM591 315h7v2h-7zM591 317h7v2h-7zM598 132h6v2h-6zM598 171h6v2h-6zM598 212h6v2h-6zM598 321h6v2h-6zM598 323h6v2h-6zM604 98h7v2h-7zM604 118h7v2h-7zM604 226h7v2h-7zM604 315h7v2h-7zM604 319h7v2h-7zM611 246h7v2h-7zM611 260h7v2h-7zM618 143h6v2h-6zM618 269h6v2h-6zM624 169h7v2h-7zM624 208h7v2h-7zM624 228h7v2h-7zM624 256h7v2h-7zM624 279h7v2h-7zM624 315h7v2h-7zM631 120h6v2h-6zM631 130h6v2h-6zM631 132h6v2h-6zM631 199h6v2h-6zM637 191h7v2h-7zM637 206h7v2h-7zM637 216h7v2h-7zM644 153h7v2h-7zM651 106h6v2h-6zM651 134h6v2h-6zM651 191h6v2h-6zM651 202h6v2h-6zM651 242h6v2h-6zM651 248h6v2h-6zM651 271h6v2h-6zM651 289h6v2h-6zM657 134h5v2h-5zM657 181h5v2h-5zM657 214h5v2h-5z" fill="rgb(255,221,221)" shape-rendering="crispEdges"/>
<path d="M440 128h6v2h-6zM440 136h6v2h-6zM440 145h6v2h-6zM440 289h6v2h-6zM446 110h7v2h-7zM446 163h7v2h-7zM446 167h7v2h-7zM446 175h7v2h-7zM446 199h7v2h-7zM446 201h7v1h-7zM446 234h7v2h-7zM453 98h7v2h-7zM453 165h7v2h-7zM453 285h7v2h-7zM460 171h6v2h-6zM460 252h6v2h-6zM460 297h6v2h-6zM466 120h7v2h-7zM466 159h7v2h-7zM466 161h7v2h-7zM466 202h7v2h-7zM466 252h7v2h-7zM479 100h7v2h-7zM479 112h7v2h-7zM479 124h7v2h-7zM479 132h7v2h-7zM479 210h7v2h-7zM479 269h7v2h-7zM479 273h7v2h-7zM479 301h7v2h-7zM486 110h6v2h-6zM486 114h6v2h-6zM486 222h6v2h-6zM492 138h7v1h-7zM492 248h7v2h-7zM492 281h7v2h-7zM499 165h7v2h-7zM499 171h7v2h-7zM499 307h7v2h-7zM499 321h7v2h-7zM499 325h7v1h-7zM506 260h6v2h-6zM506 275h6v2h-6zM506 313h6v2h-6zM506 321h6v2h-6zM512 155h7v2h-7zM512 246h7v2h-7zM512 248h7v2h-7zM512 299h7v2h-7zM519 106h6v2h-6zM519 118h6v2h-6zM519 195h6v2h-6zM519 289h6v2h-6zM519 295h6v2h-6zM525 201h7v1h-7zM525 262h7v2h-7zM525 265h7v2h-7zM525 305h7v2h-7zM532 100h7v2h-7zM532 108h7v2h-7zM532 132h7v2h-7zM539 204h6v2h-6zM539 216h6v2h-6zM545 104h7v2h-7zM545 106h7v2h-7zM545 112h7v2h-7zM545 120h7v2h-7zM545 132h7v2h-7zM545 134h7v2h-7zM545 138h7v1h-7zM545 155h7v2h-7zM545 163h7v2h-7zM545 195h7v2h-7zM545 201h7v1h-7zM545 204h7v2h-7zM545 224h7v2h-7zM545 226h7v2h-7zM545 240h7v2h-7zM545 246h7v2h-7zM552 165h6v2h-6zM552 187h6v2h-6zM552 232h6v2h-6zM552 240h6v2h-6zM558 106h7v2h-7zM558 165h7v2h-7zM558 183h7v2h-7zM558 193h7v2h-7zM558 195h7v2h-7zM558 295h7v2h-7zM558 307h7v2h-7zM558 319h7v2h-7zM558 325h7v1h-7zM565 98h7v2h-7zM565 159h7v2h-7zM565 169h7v2h-7zM565 240h7v2h-7zM572 102h6v2h-6zM572 118h6v2h-6zM572 132h6v2h-6zM572 134h6v2h-6zM572 157h6v2h-6zM572 220h6v2h-6zM572 222h6v2h-6zM572 224h6v2h-6zM572 228h6v2h-6zM572 301h6v2h-6zM578 151h7v2h-7zM578 165h7v2h-7zM578 189h7v2h-7zM578 254h7v2h-7zM585 122h6v2h-6zM585 183h6v2h-6zM585 315h6v2h-6zM591 134h7v2h-7zM591 220h7v2h-7zM598 122h6v2h-6zM598 236h6v2h-6zM604 206h7v2h-7zM604 295h7v2h-7zM611 110h7v2h-7zM611 118h7v2h-7zM611 242h7v2h-7zM611 267h7v2h-7zM611 307h7v2h-7zM611 311h7v2h-7zM618 118h6v2h-6zM618 126h6v2h-6zM618 256h6v2h-6zM624 124h7v2h-7zM624 143h7v2h-7zM624 201h7v1h-7zM624 222h7v2h-7zM624 250h7v2h-7zM631 185h6v2h-6zM631 193h6v2h-6zM631 242h6v2h-6zM631 252h6v2h-6zM631 313h6v2h-6zM637 138h7v1h-7zM637 143h7v2h-7zM637 179h7v2h-7zM637 202h7v2h-7zM637 218h7v2h-7zM644 106h7v2h-7zM644 124h7v2h-7zM644 130h7v2h-7zM644 134h7v2h-7zM644 155h7v2h-7zM644 202h7v2h-7zM644 250h7v2h-7zM644 252h7v2h-7zM644 267h7v2h-7zM644 321h7v2h-7zM651 110h6v2h-6zM651 116h6v2h-6zM651 118h6v2h-6zM651 124h6v2h-6zM651 151h6v2h-6zM651 204h6v2h-6zM651 315h6v2h-6zM657 124h5v2h-5zM657 141h5v2h-5zM657 149h5v2h-5zM657 155h5v2h-5zM657 201h5v1h-5zM657 267h5v2h-5zM657 317h5v2h-5z" fill="rgb(255,205,205)" shape-rendering="crispEdges"/>
<path d="M440 126h6v2h-6zM440 191h6v2h-6zM440 242h6v2h-6zM440 319h6v2h-6zM446 195h7v2h-7zM446 236h7v2h-7zM446 289h7v2h-7zM446 315h7v2h-7zM453 104h7v2h-7zM453 216h7v2h-7zM453 313h7v2h-7zM460 256h6v2h-6zM466 122h7v2h-7zM466 128h7v2h-7zM466 143h7v2h-7zM466 210h7v2h-7zM466 222h7v2h-7zM466 277h7v2h-7zM466 305h7v2h-7zM473 149h6v2h-6zM473 151h6v2h-6zM473 191h6v2h-6zM479 120h7v2h-7zM479 267h7v2h-7zM479 297h7v2h-7zM486 181h6v2h-6zM486 183h6v2h-6zM486 226h6v2h-6zM492 143h7v2h-7zM492 147h7v2h-7zM492 175h7v2h-7zM492 212h7v2h-7zM492 285h7v2h-7zM499 141h7v2h-7zM499 169h7v2h-7zM499 173h7v2h-7zM499 181h7v2h-7zM499 222h7v2h-7zM499 281h7v2h-7zM499 319h7v2h-7zM506 317h6v2h-6zM512 136h7v2h-7zM512 138h7v1h-7zM519 108h6v2h-6zM519 189h6v2h-6zM525 122h7v2h-7zM525 132h7v2h-7zM532 106h7v2h-7zM532 124h7v2h-7zM532 126h7v2h-7zM532 181h7v2h-7zM532 183h7v2h-7zM532 197h7v2h-7zM532 240h7v2h-7zM532 265h7v2h-7zM532 277h7v2h-7zM532 279h7v2h-7zM532 289h7v2h-7zM539 244h6v2h-6zM545 114h7v2h-7zM545 122h7v2h-7zM545 153h7v2h-7zM545 179h7v2h-7zM545 236h7v2h-7zM545 250h7v2h-7zM545 252h7v2h-7zM545 260h7v2h-7zM545 262h7v2h-7zM552 228h6v2h-6zM552 244h6v2h-6zM558 108h7v2h-7zM558 112h7v2h-7zM558 116h7v2h-7zM558 122h7v2h-7zM558 126h7v2h-7zM558 136h7v2h-7zM558 169h7v2h-7zM558 181h7v2h-7zM558 218h7v2h-7zM558 238h7v2h-7zM558 283h7v2h-7zM558 293h7v2h-7zM558 305h7v2h-7zM558 317h7v2h-7zM565 126h7v2h-7zM565 165h7v2h-7zM565 171h7v2h-7zM565 232h7v2h-7zM565 258h7v2h-7zM572 110h6v2h-6zM572 218h6v2h-6zM572 248h6v2h-6zM578 118h7v2h-7zM578 136h7v2h-7zM578 183h7v2h-7zM578 191h7v2h-7zM578 197h7v2h-7zM578 313h7v2h-7zM585 110h6v2h-6zM585 212h6v2h-6zM585 265h6v2h-6zM591 132h7v2h-7zM598 116h6v2h-6zM598 126h6v2h-6zM598 130h6v2h-6zM598 161h6v2h-6zM598 285h6v2h-6zM604 106h7v2h-7zM604 116h7v2h-7zM604 126h7v2h-7zM604 183h7v2h-7zM604 185h7v2h-7zM604 187h7v2h-7zM604 193h7v2h-7zM604 212h7v2h-7zM604 220h7v2h-7zM611 124h7v2h-7zM611 128h7v2h-7zM611 132h7v2h-7zM611 157h7v2h-7zM611 165h7v2h-7zM611 210h7v2h-7zM611 230h7v2h-7zM618 124h6v2h-6zM618 132h6v2h-6zM618 136h6v2h-6zM618 149h6v2h-6zM618 175h6v2h-6zM618 305h6v2h-6zM624 116h7v2h-7zM624 197h7v2h-7zM631 122h6v2h-6zM631 126h6v2h-6zM631 128h6v2h-6zM631 287h6v2h-6zM637 134h7v2h-7zM637 136h7v2h-7zM637 139h7v2h-7zM637 248h7v2h-7zM637 262h7v2h-7zM644 116h7v2h-7zM644 122h7v2h-7zM644 141h7v2h-7zM644 145h7v2h-7zM644 222h7v2h-7zM644 230h7v2h-7zM644 248h7v2h-7zM651 102h6v2h-6zM651 295h6v2h-6zM657 136h5v2h-5zM657 216h5v2h-5zM657 218h5v2h-5zM657 269h5v2h-5z" fill="rgb(255,190,190)" shape-rendering="crispEdges"/>
<path d="M440 171h6v2h-6zM440 175h6v2h-6zM440 230h6v2h-6zM440 236h6v2h-6zM440 244h6v2h-6zM440 287h6v2h-6zM440 317h6v2h-6zM446 159h7v2h-7zM446 173h7v2h-7zM446 246h7v2h-7zM446 267h7v2h-7zM446 311h7v2h-7zM453 108h7v2h-7zM453 114h7v2h-7zM460 100h6v2h-6zM460 120h6v2h-6zM460 130h6v2h-6zM460 132h6v2h-6zM460 167h6v2h-6zM460 214h6v2h-6zM460 218h6v2h-6zM460 287h6v2h-6zM460 301h6v2h-6zM466 139h7v2h-7zM466 220h7v2h-7zM466 250h7v2h-7zM473 128h6v2h-6zM473 153h6v2h-6zM473 189h6v2h-6zM473 240h6v2h-6zM473 244h6v2h-6zM473 303h6v2h-6zM479 116h7v2h-7zM479 147h7v2h-7zM479 177h7v2h-7zM479 238h7v2h-7zM479 271h7v2h-7zM486 116h6v2h-6zM486 141h6v2h-6zM486 143h6v2h-6zM486 151h6v2h-6zM486 177h6v2h-6zM486 319h6v2h-6zM486 321h6v2h-6zM486 323h6v2h-6zM492 252h7v2h-7zM492 254h7v2h-7zM499 153h7v2h-7zM499 167h7v2h-7zM499 175h7v2h-7zM499 323h7v2h-7zM506 206h6v2h-6zM506 258h6v2h-6zM506 265h6v2h-6zM506 273h6v2h-6zM512 143h7v2h-7zM512 240h7v2h-7zM512 303h7v2h-7zM512 305h7v2h-7zM519 98h6v2h-6zM519 122h6v2h-6zM519 191h6v2h-6zM519 301h6v2h-6zM525 191h7v2h-7zM525 319h7v2h-7zM525 323h7v2h-7zM532 98h7v2h-7zM532 122h7v2h-7zM532 128h7v2h-7zM532 222h7v2h-7zM532 224h7v2h-7zM532 269h7v2h-7zM532 285h7v2h-7zM532 287h7v2h-7zM532 291h7v2h-7zM545 185h7v2h-7zM545 193h7v2h-7zM545 202h7v2h-7zM545 210h7v2h-7zM545 254h7v2h-7zM545 265h7v2h-7zM545 267h7v2h-7zM545 271h7v2h-7zM552 167h6v2h-6zM552 224h6v2h-6zM552 236h6v2h-6zM558 98h7v2h-7zM558 102h7v2h-7zM558 167h7v2h-7zM558 187h7v2h-7zM558 191h7v2h-7zM558 236h7v2h-7zM558 285h7v2h-7zM558 291h7v2h-7zM565 118h7v2h-7zM565 132h7v2h-7zM565 136h7v2h-7zM565 147h7v2h-7zM565 252h7v2h-7zM565 256h7v2h-7zM565 265h7v2h-7zM565 269h7v2h-7zM572 120h6v2h-6zM572 139h6v2h-6zM572 143h6v2h-6zM572 246h6v2h-6zM572 299h6v2h-6zM572 303h6v2h-6zM572 307h6v2h-6zM578 116h7v2h-7zM578 122h7v2h-7zM578 126h7v2h-7zM578 167h7v2h-7zM578 195h7v2h-7zM578 201h7v1h-7zM578 202h7v2h-7zM578 204h7v2h-7zM578 252h7v2h-7zM585 167h6v2h-6zM585 269h6v2h-6zM585 325h6v1h-6zM591 108h7v2h-7zM591 130h7v2h-7zM591 173h7v2h-7zM591 230h7v2h-7zM591 240h7v2h-7zM591 277h7v2h-7zM591 321h7v2h-7zM598 250h6v2h-6zM604 100h7v2h-7zM604 102h7v2h-7zM604 112h7v2h-7zM604 191h7v2h-7zM604 204h7v2h-7zM604 210h7v2h-7zM604 218h7v2h-7zM604 256h7v2h-7zM604 262h7v2h-7zM611 98h7v2h-7zM611 264h7v1h-7zM611 299h7v2h-7zM618 122h6v2h-6zM618 145h6v2h-6zM618 173h6v2h-6zM624 120h7v2h-7zM624 139h7v2h-7zM624 242h7v2h-7zM624 283h7v2h-7zM624 311h7v2h-7zM631 110h6v2h-6zM631 171h6v2h-6zM631 191h6v2h-6zM631 195h6v2h-6zM631 210h6v2h-6zM631 307h6v2h-6zM637 98h7v2h-7zM637 311h7v2h-7zM644 108h7v2h-7zM644 112h7v2h-7zM644 114h7v2h-7zM644 138h7v1h-7zM644 149h7v2h-7zM644 179h7v2h-7zM644 206h7v2h-7zM644 208h7v2h-7zM644 258h7v2h-7zM644 289h7v2h-7zM644 293h7v2h-7zM651 147h6v2h-6zM651 187h6v2h-6zM651 193h6v2h-6zM651 212h6v2h-6zM651 216h6v2h-6zM657 98h5v2h-5zM657 100h5v2h-5zM657 122h5v2h-5zM657 145h5v2h-5zM657 161h5v2h-5zM657 197h5v2h-5zM657 273h5v2h-5zM657 275h5v2h-5zM657 315h5v2h-5z" fill="rgb(255,174,174)" shape-rendering="crispEdges"/>
<path d="M440 100h6v2h-6zM440 141h6v2h-6zM440 248h6v2h-6zM446 116h7v2h-7zM446 124h7v2h-7zM446 157h7v2h-7zM446 161h7v2h-7zM446 224h7v2h-7zM446 240h7v2h-7zM446 293h7v2h-7zM446 309h7v2h-7zM446 313h7v2h-7zM453 106h7v2h-7zM453 110h7v2h-7zM460 126h6v2h-6zM460 165h6v2h-6zM460 299h6v2h-6zM466 126h7v2h-7zM466 134h7v2h-7zM466 138h7v1h-7zM466 141h7v2h-7zM473 100h6v2h-6zM473 110h6v2h-6zM479 104h7v2h-7zM479 106h7v2h-7zM479 143h7v2h-7zM479 179h7v2h-7zM479 204h7v2h-7zM479 232h7v2h-7zM479 291h7v2h-7zM479 293h7v2h-7zM486 145h6v2h-6zM486 220h6v2h-6zM492 159h7v2h-7zM492 206h7v2h-7zM499 147h7v2h-7zM499 151h7v2h-7zM499 177h7v2h-7zM499 226h7v2h-7zM499 311h7v2h-7zM506 193h6v2h-6zM506 197h6v2h-6zM506 210h6v2h-6zM506 323h6v2h-6zM512 163h7v2h-7zM512 165h7v2h-7zM512 222h7v2h-7zM512 238h7v2h-7zM512 244h7v2h-7zM519 102h6v2h-6zM519 110h6v2h-6zM519 309h6v2h-6zM519 313h6v2h-6zM519 315h6v2h-6zM525 116h7v2h-7zM525 120h7v2h-7zM525 124h7v2h-7zM525 195h7v2h-7zM525 311h7v2h-7zM525 321h7v2h-7zM532 110h7v2h-7zM532 116h7v2h-7zM532 185h7v2h-7zM532 195h7v2h-7zM532 204h7v2h-7zM532 208h7v2h-7zM532 212h7v2h-7zM532 230h7v2h-7zM532 234h7v2h-7zM532 244h7v2h-7zM532 248h7v2h-7zM532 271h7v2h-7zM532 273h7v2h-7zM532 293h7v2h-7zM532 301h7v2h-7zM539 218h6v2h-6zM539 222h6v2h-6zM539 224h6v2h-6zM539 226h6v2h-6zM539 242h6v2h-6zM539 246h6v2h-6zM545 130h7v2h-7zM545 143h7v2h-7zM545 183h7v2h-7zM545 189h7v2h-7zM545 197h7v2h-7zM545 199h7v2h-7zM545 208h7v2h-7zM545 273h7v2h-7zM545 279h7v2h-7zM545 283h7v2h-7zM545 285h7v2h-7zM545 289h7v2h-7zM552 234h6v2h-6zM552 250h6v2h-6zM558 100h7v2h-7zM558 185h7v2h-7zM558 220h7v2h-7zM558 224h7v2h-7zM558 232h7v2h-7zM558 242h7v2h-7zM558 256h7v2h-7zM558 264h7v1h-7zM558 267h7v2h-7zM558 271h7v2h-7zM558 273h7v2h-7zM558 287h7v2h-7zM558 303h7v2h-7zM558 321h7v2h-7zM565 100h7v2h-7zM565 106h7v2h-7zM565 139h7v2h-7zM565 143h7v2h-7zM565 145h7v2h-7zM565 151h7v2h-7zM565 260h7v2h-7zM565 267h7v2h-7zM565 279h7v2h-7zM572 100h6v2h-6zM572 136h6v2h-6zM572 145h6v2h-6zM572 149h6v2h-6zM572 155h6v2h-6zM572 161h6v2h-6zM578 181h7v2h-7zM578 210h7v2h-7zM578 250h7v2h-7zM585 114h6v2h-6zM585 118h6v2h-6zM585 165h6v2h-6zM585 171h6v2h-6zM585 220h6v2h-6zM585 224h6v2h-6zM585 317h6v2h-6zM591 136h7v2h-7zM591 183h7v2h-7zM591 238h7v2h-7zM591 242h7v2h-7zM591 244h7v2h-7zM591 246h7v2h-7zM598 112h6v2h-6zM598 165h6v2h-6zM598 167h6v2h-6zM598 210h6v2h-6zM598 287h6v2h-6zM604 104h7v2h-7zM604 108h7v2h-7zM604 110h7v2h-7zM604 120h7v2h-7zM604 149h7v2h-7zM604 197h7v2h-7zM604 208h7v2h-7zM604 258h7v2h-7zM604 287h7v2h-7zM611 100h7v2h-7zM611 102h7v2h-7zM611 106h7v2h-7zM611 108h7v2h-7zM611 130h7v2h-7zM618 108h6v2h-6zM618 116h6v2h-6zM618 147h6v2h-6zM618 301h6v2h-6zM624 122h7v2h-7zM624 195h7v2h-7zM624 244h7v2h-7zM624 307h7v2h-7zM624 309h7v2h-7zM631 114h6v2h-6zM631 124h6v2h-6zM631 134h6v2h-6zM631 169h6v2h-6zM631 197h6v2h-6zM631 248h6v2h-6zM637 104h7v2h-7zM637 149h7v2h-7zM637 159h7v2h-7zM637 199h7v2h-7zM637 260h7v2h-7zM637 309h7v2h-7zM637 313h7v2h-7zM644 110h7v2h-7zM644 118h7v2h-7zM644 157h7v2h-7zM644 175h7v2h-7zM644 224h7v2h-7zM644 254h7v2h-7zM651 139h6v2h-6zM651 149h6v2h-6zM651 173h6v2h-6zM651 183h6v2h-6zM651 197h6v2h-6zM651 201h6v1h-6zM651 240h6v2h-6zM657 102h5v2h-5zM657 104h5v2h-5zM657 120h5v2h-5zM657 199h5v2h-5z" fill="rgb(255,159,159)" shape-rendering="crispEdges"/>
<path d="M440 102h6v2h-6zM440 104h6v2h-6zM440 132h6v2h-6zM440 139h6v2h-6zM440 179h6v2h-6zM440 181h6v2h-6zM440 212h6v2h-6zM446 118h7v2h-7zM446 165h7v2h-7zM446 169h7v2h-7zM446 171h7v2h-7zM446 202h7v2h-7zM446 232h7v2h-7zM446 295h7v2h-7zM453 143h7v2h-7zM453 212h7v2h-7zM453 309h7v2h-7zM460 106h6v2h-6zM460 110h6v2h-6zM460 112h6v2h-6zM460 116h6v2h-6zM460 118h6v2h-6zM460 157h6v2h-6zM460 163h6v2h-6zM460 173h6v2h-6zM460 175h6v2h-6zM460 179h6v2h-6zM460 240h6v2h-6zM460 254h6v2h-6zM460 303h6v2h-6zM466 173h7v2h-7zM466 201h7v1h-7zM466 226h7v2h-7zM473 98h6v2h-6zM473 183h6v2h-6zM473 277h6v2h-6zM479 151h7v2h-7zM479 181h7v2h-7zM479 212h7v2h-7zM479 277h7v2h-7zM479 289h7v2h-7zM479 295h7v2h-7zM486 139h6v2h-6zM486 189h6v2h-6zM486 325h6v1h-6zM492 139h7v2h-7zM492 153h7v2h-7zM492 155h7v2h-7zM492 171h7v2h-7zM492 204h7v2h-7zM492 279h7v2h-7zM499 155h7v2h-7zM499 159h7v2h-7zM499 179h7v2h-7zM499 279h7v2h-7zM499 309h7v2h-7zM499 313h7v2h-7zM506 120h6v2h-6zM506 143h6v2h-6zM506 199h6v2h-6zM506 201h6v1h-6zM506 208h6v2h-6zM506 250h6v2h-6zM506 325h6v1h-6zM512 157h7v2h-7zM512 159h7v2h-7zM512 236h7v2h-7zM512 301h7v2h-7zM519 297h6v2h-6zM519 299h6v2h-6zM525 199h7v2h-7zM525 248h7v2h-7zM525 325h7v1h-7zM532 104h7v2h-7zM532 214h7v2h-7zM532 226h7v2h-7zM532 258h7v2h-7zM532 260h7v2h-7zM532 297h7v2h-7zM532 303h7v2h-7zM539 248h6v2h-6zM545 141h7v2h-7zM545 206h7v2h-7zM545 287h7v2h-7zM545 293h7v2h-7zM545 295h7v2h-7zM552 242h6v2h-6zM552 248h6v2h-6zM552 254h6v2h-6zM552 258h6v2h-6zM552 269h6v2h-6zM558 128h7v2h-7zM558 130h7v2h-7zM558 134h7v2h-7zM558 139h7v2h-7zM558 201h7v1h-7zM558 216h7v2h-7zM558 246h7v2h-7zM558 250h7v2h-7zM558 260h7v2h-7zM558 277h7v2h-7zM558 281h7v2h-7zM558 309h7v2h-7zM558 315h7v2h-7zM558 323h7v2h-7zM565 108h7v2h-7zM565 110h7v2h-7zM565 128h7v2h-7zM565 149h7v2h-7zM565 157h7v2h-7zM565 161h7v2h-7zM565 163h7v2h-7zM572 141h6v2h-6zM572 147h6v2h-6zM572 216h6v2h-6zM572 242h6v2h-6zM572 311h6v2h-6zM572 315h6v2h-6zM578 112h7v2h-7zM578 114h7v2h-7zM578 120h7v2h-7zM578 124h7v2h-7zM578 175h7v2h-7zM578 179h7v2h-7zM578 199h7v2h-7zM578 206h7v2h-7zM578 315h7v2h-7zM585 120h6v2h-6zM585 173h6v2h-6zM585 216h6v2h-6zM585 218h6v2h-6zM585 226h6v2h-6zM585 321h6v2h-6zM591 149h7v2h-7zM591 157h7v2h-7zM591 171h7v2h-7zM591 222h7v2h-7zM591 234h7v2h-7zM591 248h7v2h-7zM591 269h7v2h-7zM591 271h7v2h-7zM591 273h7v2h-7zM591 319h7v2h-7zM598 118h6v2h-6zM598 120h6v2h-6zM598 124h6v2h-6zM598 275h6v2h-6zM598 279h6v2h-6zM598 283h6v2h-6zM604 114h7v2h-7zM604 145h7v2h-7zM604 201h7v1h-7zM604 216h7v2h-7zM611 155h7v2h-7zM618 153h6v2h-6zM618 171h6v2h-6zM618 271h6v2h-6zM618 299h6v2h-6zM624 130h7v2h-7zM624 138h7v1h-7zM624 187h7v2h-7zM624 313h7v2h-7zM631 112h6v2h-6zM631 161h6v2h-6zM637 100h7v2h-7zM637 141h7v2h-7zM637 145h7v2h-7zM644 139h7v2h-7zM644 177h7v2h-7zM644 204h7v2h-7zM644 232h7v2h-7zM644 260h7v2h-7zM644 291h7v2h-7zM651 100h6v2h-6zM651 136h6v2h-6zM651 141h6v2h-6zM651 199h6v2h-6zM651 267h6v2h-6zM657 126h5v2h-5zM657 157h5v2h-5zM657 193h5v2h-5zM657 220h5v2h-5zM657 222h5v2h-5z" fill="rgb(255,143,143)" shape-rendering="crispEdges"/>
<path d="M440 130h6v2h-6zM440 134h6v2h-6zM440 173h6v2h-6zM440 315h6v2h-6zM446 120h7v2h-7zM446 226h7v2h-7zM446 228h7v2h-7zM446 244h7v2h-7zM446 291h7v2h-7zM453 112h7v2h-7zM453 145h7v2h-7zM453 191h7v2h-7zM453 193h7v2h-7zM453 264h7v1h-7zM453 287h7v2h-7zM453 305h7v2h-7zM460 128h6v2h-6zM460 153h6v2h-6zM460 159h6v2h-6zM460 177h6v2h-6zM460 210h6v2h-6zM466 224h7v2h-7zM473 108h6v2h-6zM473 126h6v2h-6zM473 130h6v2h-6zM473 132h6v2h-6zM473 216h6v2h-6zM473 220h6v2h-6zM473 297h6v2h-6zM473 301h6v2h-6zM479 98h7v2h-7zM479 102h7v2h-7zM479 108h7v2h-7zM479 114h7v2h-7zM479 275h7v2h-7zM486 138h6v1h-6zM486 187h6v2h-6zM486 258h6v2h-6zM492 161h7v2h-7zM492 163h7v2h-7zM492 181h7v2h-7zM492 208h7v2h-7zM492 250h7v2h-7zM492 258h7v2h-7zM492 283h7v2h-7zM499 145h7v2h-7zM506 138h6v1h-6zM506 139h6v2h-6zM506 319h6v2h-6zM512 167h7v2h-7zM512 169h7v2h-7zM512 228h7v2h-7zM512 230h7v2h-7zM519 114h6v2h-6zM519 116h6v2h-6zM519 187h6v2h-6zM519 197h6v2h-6zM519 199h6v2h-6zM519 305h6v2h-6zM519 311h6v2h-6zM525 118h7v2h-7zM525 128h7v2h-7zM532 102h7v2h-7zM532 187h7v2h-7zM532 189h7v2h-7zM532 191h7v2h-7zM532 193h7v2h-7zM532 199h7v2h-7zM532 206h7v2h-7zM532 210h7v2h-7zM532 228h7v2h-7zM532 242h7v2h-7zM532 250h7v2h-7zM532 252h7v2h-7zM532 264h7v1h-7zM532 267h7v2h-7zM532 275h7v2h-7zM532 295h7v2h-7zM532 299h7v2h-7zM532 319h7v2h-7zM539 228h6v2h-6zM545 187h7v2h-7zM545 191h7v2h-7zM545 258h7v2h-7zM545 269h7v2h-7zM545 291h7v2h-7zM552 246h6v2h-6zM558 132h7v2h-7zM558 212h7v2h-7zM558 230h7v2h-7zM558 244h7v2h-7zM558 269h7v2h-7zM558 289h7v2h-7zM565 112h7v2h-7zM565 116h7v2h-7zM565 124h7v2h-7zM565 138h7v1h-7zM565 236h7v2h-7zM565 254h7v2h-7zM565 285h7v2h-7zM572 173h6v2h-6zM572 244h6v2h-6zM572 309h6v2h-6zM578 108h7v2h-7zM578 110h7v2h-7zM578 185h7v2h-7zM578 193h7v2h-7zM585 161h6v2h-6zM585 214h6v2h-6zM585 222h6v2h-6zM585 230h6v2h-6zM585 260h6v2h-6zM585 323h6v2h-6zM591 138h7v1h-7zM591 226h7v2h-7zM598 128h6v2h-6zM598 281h6v2h-6zM604 122h7v2h-7zM604 202h7v2h-7zM604 265h7v2h-7zM611 104h7v2h-7zM611 134h7v2h-7zM611 149h7v2h-7zM611 277h7v2h-7zM611 295h7v2h-7zM618 155h6v2h-6zM618 303h6v2h-6zM624 118h7v2h-7zM624 134h7v2h-7zM624 189h7v2h-7zM624 206h7v2h-7zM631 151h6v2h-6zM631 165h6v2h-6zM631 201h6v1h-6zM637 147h7v2h-7zM637 151h7v2h-7zM637 173h7v2h-7zM644 173h7v2h-7zM644 210h7v2h-7zM644 236h7v2h-7zM644 264h7v1h-7zM644 265h7v2h-7zM651 104h6v2h-6zM651 185h6v2h-6zM651 210h6v2h-6zM651 214h6v2h-6zM651 250h6v2h-6zM651 254h6v2h-6zM657 108h5v2h-5zM657 195h5v2h-5zM657 238h5v2h-5zM657 271h5v2h-5z" fill="rgb(255,128,128)" shape-rendering="crispEdges"/>
<path d="M440 177h6v2h-6zM440 228h6v2h-6zM440 277h6v2h-6zM446 122h7v2h-7zM446 238h7v2h-7zM446 252h7v2h-7zM446 307h7v2h-7zM453 163h7v2h-7zM453 195h7v2h-7zM453 258h7v2h-7zM453 307h7v2h-7zM460 122h6v2h-6zM460 124h6v2h-6zM460 139h6v2h-6zM460 161h6v2h-6zM460 181h6v2h-6zM460 216h6v2h-6zM460 248h6v2h-6zM460 250h6v2h-6zM466 132h7v2h-7zM466 136h7v2h-7zM466 228h7v2h-7zM466 248h7v2h-7zM466 301h7v2h-7zM466 303h7v2h-7zM473 104h6v2h-6zM473 134h6v2h-6zM473 185h6v2h-6zM473 187h6v2h-6zM473 214h6v2h-6zM479 155h7v2h-7zM479 167h7v2h-7zM479 234h7v2h-7zM486 120h6v2h-6zM486 208h6v2h-6zM492 136h7v2h-7zM492 157h7v2h-7zM492 165h7v2h-7zM492 173h7v2h-7zM492 177h7v2h-7zM492 179h7v2h-7zM492 183h7v2h-7zM492 256h7v2h-7zM499 163h7v2h-7zM506 212h6v2h-6zM506 254h6v2h-6zM506 256h6v2h-6zM512 161h7v2h-7zM512 220h7v2h-7zM512 226h7v2h-7zM512 232h7v2h-7zM519 104h6v2h-6zM519 112h6v2h-6zM519 165h6v2h-6zM519 303h6v2h-6zM525 110h7v2h-7zM525 134h7v2h-7zM525 313h7v2h-7zM525 317h7v2h-7zM532 120h7v2h-7zM532 202h7v2h-7zM532 218h7v2h-7zM532 232h7v2h-7zM532 238h7v2h-7zM532 246h7v2h-7zM532 262h7v2h-7zM532 311h7v2h-7zM539 267h6v2h-6zM545 126h7v2h-7zM545 212h7v2h-7zM545 256h7v2h-7zM545 275h7v2h-7zM545 277h7v2h-7zM552 238h6v2h-6zM552 315h6v2h-6zM558 171h7v2h-7zM558 202h7v2h-7zM558 234h7v2h-7zM558 240h7v2h-7zM558 248h7v2h-7zM558 254h7v2h-7zM558 258h7v2h-7zM558 313h7v2h-7zM565 153h7v2h-7zM565 250h7v2h-7zM565 273h7v2h-7zM572 138h6v1h-6zM572 189h6v2h-6zM572 193h6v2h-6zM572 214h6v2h-6zM572 230h6v2h-6zM585 155h6v2h-6zM585 163h6v2h-6zM585 169h6v2h-6zM585 319h6v2h-6zM591 147h7v2h-7zM591 159h7v2h-7zM591 232h7v2h-7zM591 236h7v2h-7zM591 260h7v2h-7zM598 173h6v2h-6zM598 193h6v2h-6zM604 199h7v2h-7zM604 214h7v2h-7zM604 260h7v2h-7zM611 161h7v2h-7zM611 163h7v2h-7zM611 297h7v2h-7zM618 120h6v2h-6zM618 212h6v2h-6zM618 248h6v2h-6zM618 273h6v2h-6zM624 141h7v2h-7zM624 173h7v2h-7zM624 175h7v2h-7zM624 177h7v2h-7zM624 181h7v2h-7zM624 183h7v2h-7zM624 238h7v2h-7zM624 246h7v2h-7zM631 106h6v2h-6zM631 108h6v2h-6zM631 138h6v1h-6zM631 149h6v2h-6zM631 155h6v2h-6zM631 167h6v2h-6zM631 206h6v2h-6zM637 102h7v2h-7zM637 153h7v2h-7zM637 157h7v2h-7zM637 171h7v2h-7zM637 250h7v2h-7zM637 287h7v2h-7zM637 299h7v2h-7zM644 120h7v2h-7zM644 161h7v2h-7zM644 226h7v2h-7zM644 228h7v2h-7zM644 234h7v2h-7zM644 315h7v2h-7zM651 189h6v2h-6zM651 238h6v2h-6zM651 252h6v2h-6zM651 258h6v2h-6zM651 311h6v2h-6zM657 112h5v2h-5zM657 118h5v2h-5zM657 128h5v2h-5z" fill="rgb(255,112,112)" shape-rendering="crispEdges"/>
<path d="M440 143h6v2h-6zM440 218h6v2h-6zM440 254h6v2h-6zM440 297h6v2h-6zM446 230h7v2h-7zM446 242h7v2h-7zM446 250h7v2h-7zM446 256h7v2h-7zM446 264h7v1h-7zM453 157h7v2h-7zM453 197h7v2h-7zM453 240h7v2h-7zM460 134h6v2h-6zM460 143h6v2h-6zM460 189h6v2h-6zM460 242h6v2h-6zM460 289h6v2h-6zM466 130h7v2h-7zM466 191h7v2h-7zM466 195h7v2h-7zM466 281h7v2h-7zM466 299h7v2h-7zM473 106h6v2h-6zM473 112h6v2h-6zM473 218h6v2h-6zM473 222h6v2h-6zM473 285h6v2h-6zM473 299h6v2h-6zM479 110h7v2h-7zM479 175h7v2h-7zM486 134h6v2h-6zM486 136h6v2h-6zM492 167h7v2h-7zM492 169h7v2h-7zM492 202h7v2h-7zM492 210h7v2h-7zM499 157h7v2h-7zM499 224h7v2h-7zM499 275h7v2h-7zM499 277h7v2h-7zM499 315h7v2h-7zM506 132h6v2h-6zM506 136h6v2h-6zM506 195h6v2h-6zM506 202h6v2h-6zM506 204h6v2h-6zM512 173h7v2h-7zM512 191h7v2h-7zM512 195h7v2h-7zM512 201h7v1h-7zM512 224h7v2h-7zM512 242h7v2h-7zM512 313h7v2h-7zM519 120h6v2h-6zM519 185h6v2h-6zM525 130h7v2h-7zM525 193h7v2h-7zM532 201h7v1h-7zM532 236h7v2h-7zM539 230h6v2h-6zM539 279h6v2h-6zM545 128h7v2h-7zM545 281h7v2h-7zM552 256h6v2h-6zM552 313h6v2h-6zM558 208h7v2h-7zM558 279h7v2h-7zM565 114h7v2h-7zM565 122h7v2h-7zM565 141h7v2h-7zM565 155h7v2h-7zM565 262h7v2h-7zM565 264h7v1h-7zM565 281h7v2h-7zM565 283h7v2h-7zM565 303h7v2h-7zM572 153h6v2h-6zM572 163h6v2h-6zM572 195h6v2h-6zM572 197h6v2h-6zM572 210h6v2h-6zM572 212h6v2h-6zM572 325h6v1h-6zM585 112h6v2h-6zM585 145h6v2h-6zM585 246h6v2h-6zM591 153h7v2h-7zM591 161h7v2h-7zM591 167h7v2h-7zM591 275h7v2h-7zM591 323h7v2h-7zM598 106h6v2h-6zM598 108h6v2h-6zM598 110h6v2h-6zM598 114h6v2h-6zM598 181h6v2h-6zM598 195h6v2h-6zM604 128h7v2h-7zM604 130h7v2h-7zM604 134h7v2h-7zM604 139h7v2h-7zM604 264h7v1h-7zM604 275h7v2h-7zM611 136h7v2h-7zM618 104h6v2h-6zM618 151h6v2h-6zM618 214h6v2h-6zM618 226h6v2h-6zM624 126h7v2h-7zM624 136h7v2h-7zM624 185h7v2h-7zM624 193h7v2h-7zM624 230h7v2h-7zM624 240h7v2h-7zM624 248h7v2h-7zM624 285h7v2h-7zM631 202h6v2h-6zM631 204h6v2h-6zM637 116h7v2h-7zM637 132h7v2h-7zM637 258h7v2h-7zM637 307h7v2h-7zM644 163h7v2h-7zM644 165h7v2h-7zM651 143h6v2h-6zM651 145h6v2h-6zM651 181h6v2h-6zM651 195h6v2h-6zM651 220h6v2h-6zM651 256h6v2h-6zM651 269h6v2h-6zM651 291h6v2h-6zM651 293h6v2h-6zM651 297h6v2h-6zM651 313h6v2h-6zM657 116h5v2h-5zM657 132h5v2h-5zM657 159h5v2h-5zM657 297h5v2h-5zM657 301h5v2h-5z" fill="rgb(255,96,96)" shape-rendering="crispEdges"/>
<path d="M440 98h6v2h-6zM440 138h6v1h-6zM440 301h6v2h-6zM446 204h7v2h-7zM446 220h7v2h-7zM446 297h7v2h-7zM453 147h7v2h-7zM453 208h7v2h-7zM453 248h7v2h-7zM453 250h7v2h-7zM453 254h7v2h-7zM453 289h7v2h-7zM453 297h7v2h-7zM453 301h7v2h-7zM453 311h7v2h-7zM460 98h6v2h-6zM460 151h6v2h-6zM460 204h6v2h-6zM466 175h7v2h-7zM466 181h7v2h-7zM466 193h7v2h-7zM466 230h7v2h-7zM466 232h7v2h-7zM466 234h7v2h-7zM466 238h7v2h-7zM466 279h7v2h-7zM473 295h6v2h-6zM479 153h7v2h-7zM479 163h7v2h-7zM479 165h7v2h-7zM479 171h7v2h-7zM479 230h7v2h-7zM479 236h7v2h-7zM479 279h7v2h-7zM479 287h7v2h-7zM486 132h6v2h-6zM486 204h6v2h-6zM486 206h6v2h-6zM486 260h6v2h-6zM486 267h6v2h-6zM486 285h6v2h-6zM492 141h7v2h-7zM492 187h7v2h-7zM492 260h7v2h-7zM492 265h7v2h-7zM499 149h7v2h-7zM499 228h7v2h-7zM506 116h6v2h-6zM506 124h6v2h-6zM506 128h6v2h-6zM506 252h6v2h-6zM512 171h7v2h-7zM512 177h7v2h-7zM512 181h7v2h-7zM512 234h7v2h-7zM512 307h7v2h-7zM519 132h6v2h-6zM519 143h6v2h-6zM519 177h6v2h-6zM519 325h6v1h-6zM525 149h7v2h-7zM525 159h7v2h-7zM532 220h7v2h-7zM539 256h6v2h-6zM539 269h6v2h-6zM539 283h6v2h-6zM545 297h7v2h-7zM545 325h7v1h-7zM552 303h6v2h-6zM552 311h6v2h-6zM552 323h6v2h-6zM558 222h7v2h-7zM558 228h7v2h-7zM558 262h7v2h-7zM558 275h7v2h-7zM558 311h7v2h-7zM565 120h7v2h-7zM565 234h7v2h-7zM565 275h7v2h-7zM565 277h7v2h-7zM565 287h7v2h-7zM565 297h7v2h-7zM572 169h6v2h-6zM572 179h6v2h-6zM572 201h6v1h-6zM572 232h6v2h-6zM572 317h6v2h-6zM585 138h6v1h-6zM585 228h6v2h-6zM585 238h6v2h-6zM585 256h6v2h-6zM591 254h7v2h-7zM591 267h7v2h-7zM598 179h6v2h-6zM598 185h6v2h-6zM598 256h6v2h-6zM598 262h6v2h-6zM598 267h6v2h-6zM598 277h6v2h-6zM604 141h7v2h-7zM604 267h7v2h-7zM604 281h7v2h-7zM611 143h7v2h-7zM611 151h7v2h-7zM611 269h7v2h-7zM611 279h7v2h-7zM618 102h6v2h-6zM618 232h6v2h-6zM618 295h6v2h-6zM624 128h7v2h-7zM624 191h7v2h-7zM624 199h7v2h-7zM624 299h7v2h-7zM624 305h7v2h-7zM631 116h6v2h-6zM631 143h6v2h-6zM631 163h6v2h-6zM631 303h6v2h-6zM631 305h6v2h-6zM637 167h7v2h-7zM644 167h7v2h-7zM651 138h6v1h-6zM651 175h6v2h-6zM651 218h6v2h-6zM651 309h6v2h-6zM657 106h5v2h-5zM657 183h5v2h-5z" fill="rgb(255,81,81)" shape-rendering="crispEdges"/>
<path d="M440 226h6v2h-6zM440 250h6v2h-6zM440 262h6v2h-6zM440 313h6v2h-6zM446 222h7v2h-7zM446 248h7v2h-7zM453 206h7v2h-7zM453 210h7v2h-7zM460 104h6v2h-6zM460 138h6v1h-6zM460 155h6v2h-6zM460 185h6v2h-6zM460 246h6v2h-6zM466 177h7v2h-7zM466 189h7v2h-7zM466 244h7v2h-7zM466 283h7v2h-7zM473 102h6v2h-6zM473 114h6v2h-6zM473 116h6v2h-6zM473 165h6v2h-6zM473 279h6v2h-6zM473 289h6v2h-6zM486 130h6v2h-6zM486 191h6v2h-6zM486 216h6v2h-6zM486 218h6v2h-6zM486 265h6v2h-6zM486 275h6v2h-6zM492 108h7v2h-7zM492 114h7v2h-7zM492 116h7v2h-7zM492 193h7v2h-7zM499 230h7v2h-7zM499 238h7v2h-7zM506 112h6v2h-6zM506 141h6v2h-6zM512 185h7v2h-7zM512 210h7v2h-7zM512 216h7v2h-7zM519 100h6v2h-6zM519 139h6v2h-6zM519 167h6v2h-6zM519 179h6v2h-6zM519 181h6v2h-6zM519 307h6v2h-6zM519 317h6v2h-6zM519 321h6v2h-6zM525 104h7v2h-7zM525 141h7v2h-7zM525 157h7v2h-7zM525 163h7v2h-7zM525 185h7v2h-7zM532 216h7v2h-7zM532 283h7v2h-7zM532 305h7v2h-7zM532 307h7v2h-7zM539 232h6v2h-6zM539 252h6v2h-6zM539 264h6v1h-6zM539 271h6v2h-6zM539 297h6v2h-6zM545 299h7v2h-7zM545 317h7v2h-7zM552 252h6v2h-6zM552 260h6v2h-6zM552 267h6v2h-6zM552 273h6v2h-6zM558 210h7v2h-7zM565 289h7v2h-7zM565 295h7v2h-7zM565 305h7v2h-7zM565 307h7v2h-7zM572 175h6v2h-6zM572 181h6v2h-6zM572 183h6v2h-6zM572 185h6v2h-6zM572 199h6v2h-6zM572 204h6v2h-6zM572 313h6v2h-6zM578 212h7v2h-7zM578 226h7v2h-7zM585 126h6v2h-6zM585 130h6v2h-6zM585 149h6v2h-6zM585 232h6v2h-6zM585 236h6v2h-6zM585 254h6v2h-6zM591 163h7v2h-7zM591 228h7v2h-7zM591 256h7v2h-7zM598 102h6v2h-6zM598 104h6v2h-6zM598 169h6v2h-6zM598 175h6v2h-6zM598 187h6v2h-6zM598 189h6v2h-6zM598 197h6v2h-6zM598 199h6v2h-6zM598 206h6v2h-6zM598 264h6v1h-6zM598 271h6v2h-6zM604 132h7v2h-7zM604 136h7v2h-7zM611 139h7v2h-7zM611 153h7v2h-7zM611 212h7v2h-7zM611 271h7v2h-7zM611 281h7v2h-7zM611 285h7v2h-7zM611 287h7v2h-7zM611 291h7v2h-7zM618 98h6v2h-6zM618 106h6v2h-6zM618 110h6v2h-6zM618 114h6v2h-6zM618 161h6v2h-6zM618 163h6v2h-6zM618 169h6v2h-6zM618 220h6v2h-6zM618 222h6v2h-6zM618 224h6v2h-6zM618 234h6v2h-6zM618 240h6v2h-6zM618 244h6v2h-6zM618 275h6v2h-6zM624 132h7v2h-7zM624 179h7v2h-7zM624 287h7v2h-7zM637 114h7v2h-7zM637 118h7v2h-7zM637 120h7v2h-7zM637 122h7v2h-7zM637 161h7v2h-7zM637 252h7v2h-7zM637 256h7v2h-7zM637 289h7v2h-7zM644 171h7v2h-7zM644 216h7v2h-7zM644 295h7v2h-7zM644 301h7v2h-7zM644 307h7v2h-7zM644 309h7v2h-7zM651 98h6v2h-6zM651 236h6v2h-6zM651 301h6v2h-6zM657 110h5v2h-5zM657 299h5v2h-5zM657 305h5v2h-5z" fill="rgb(255,65,65)" shape-rendering="crispEdges"/>
<path d="M440 216h6v2h-6zM440 224h6v2h-6zM440 265h6v2h-6zM440 267h6v2h-6zM440 305h6v2h-6zM446 299h7v2h-7zM453 242h7v2h-7zM453 252h7v2h-7zM453 295h7v2h-7zM460 102h6v2h-6zM460 136h6v2h-6zM460 183h6v2h-6zM460 212h6v2h-6zM466 199h7v2h-7zM466 246h7v2h-7zM466 297h7v2h-7zM473 118h6v2h-6zM473 122h6v2h-6zM473 169h6v2h-6zM473 224h6v2h-6zM479 157h7v2h-7zM479 173h7v2h-7zM479 218h7v2h-7zM479 220h7v2h-7zM479 224h7v2h-7zM486 122h6v2h-6zM486 124h6v2h-6zM486 197h6v2h-6zM486 214h6v2h-6zM486 262h6v2h-6zM486 271h6v2h-6zM486 273h6v2h-6zM492 118h7v2h-7zM492 134h7v2h-7zM492 185h7v2h-7zM499 260h7v2h-7zM499 262h7v2h-7zM499 271h7v2h-7zM506 104h6v2h-6zM506 122h6v2h-6zM506 238h6v2h-6zM506 242h6v2h-6zM506 248h6v2h-6zM512 175h7v2h-7zM512 199h7v2h-7zM512 202h7v2h-7zM512 218h7v2h-7zM512 311h7v2h-7zM519 124h6v2h-6zM519 161h6v2h-6zM519 323h6v2h-6zM525 100h7v2h-7zM525 108h7v2h-7zM525 139h7v2h-7zM525 153h7v2h-7zM525 161h7v2h-7zM525 165h7v2h-7zM525 173h7v2h-7zM525 175h7v2h-7zM525 181h7v2h-7zM525 315h7v2h-7zM539 234h6v2h-6zM539 258h6v2h-6zM539 273h6v2h-6zM545 264h7v1h-7zM545 301h7v2h-7zM545 315h7v2h-7zM552 265h6v2h-6zM552 271h6v2h-6zM552 293h6v2h-6zM552 317h6v2h-6zM558 204h7v2h-7zM558 206h7v2h-7zM565 309h7v2h-7zM572 165h6v2h-6zM572 202h6v2h-6zM572 208h6v2h-6zM572 240h6v2h-6zM572 321h6v2h-6zM578 102h7v2h-7zM578 208h7v2h-7zM578 224h7v2h-7zM578 317h7v2h-7zM585 124h6v2h-6zM585 132h6v2h-6zM585 136h6v2h-6zM585 139h6v2h-6zM585 141h6v2h-6zM585 143h6v2h-6zM585 147h6v2h-6zM585 151h6v2h-6zM585 153h6v2h-6zM585 234h6v2h-6zM585 258h6v2h-6zM591 139h7v2h-7zM591 141h7v2h-7zM591 145h7v2h-7zM591 165h7v2h-7zM591 169h7v2h-7zM591 252h7v2h-7zM598 191h6v2h-6zM598 202h6v2h-6zM598 204h6v2h-6zM604 143h7v2h-7zM604 269h7v2h-7zM604 271h7v2h-7zM604 277h7v2h-7zM611 138h7v1h-7zM611 141h7v2h-7zM611 145h7v2h-7zM611 159h7v2h-7zM611 216h7v2h-7zM611 222h7v2h-7zM611 226h7v2h-7zM618 100h6v2h-6zM618 159h6v2h-6zM618 165h6v2h-6zM618 230h6v2h-6zM618 238h6v2h-6zM618 246h6v2h-6zM618 293h6v2h-6zM618 297h6v2h-6zM624 234h7v2h-7zM631 136h6v2h-6zM631 159h6v2h-6zM631 289h6v2h-6zM631 291h6v2h-6zM637 106h7v2h-7zM637 108h7v2h-7zM637 112h7v2h-7zM637 128h7v2h-7zM637 169h7v2h-7zM637 254h7v2h-7zM637 291h7v2h-7zM637 295h7v2h-7zM637 303h7v2h-7zM644 169h7v2h-7zM644 220h7v2h-7zM644 262h7v2h-7zM644 303h7v2h-7zM644 305h7v2h-7zM651 264h6v1h-6zM651 299h6v2h-6z" fill="rgb(255,50,50)" shape-rendering="crispEdges"/>
<path d="M440 220h6v2h-6zM440 252h6v2h-6zM440 264h6v1h-6zM440 275h6v2h-6zM440 299h6v2h-6zM446 208h7v2h-7zM453 149h7v2h-7zM453 199h7v2h-7zM453 202h7v2h-7zM453 244h7v2h-7zM453 291h7v2h-7zM460 145h6v2h-6zM460 149h6v2h-6zM460 187h6v2h-6zM460 193h6v2h-6zM460 201h6v1h-6zM466 242h7v2h-7zM473 124h6v2h-6zM473 155h6v2h-6zM473 161h6v2h-6zM473 171h6v2h-6zM473 177h6v2h-6zM473 181h6v2h-6zM473 230h6v2h-6zM473 234h6v2h-6zM473 236h6v2h-6zM473 238h6v2h-6zM473 281h6v2h-6zM473 283h6v2h-6zM473 287h6v2h-6zM473 291h6v2h-6zM479 161h7v2h-7zM479 216h7v2h-7zM479 228h7v2h-7zM479 283h7v2h-7zM486 118h6v2h-6zM486 128h6v2h-6zM486 212h6v2h-6zM486 277h6v2h-6zM492 106h7v2h-7zM492 120h7v2h-7zM492 195h7v2h-7zM492 201h7v1h-7zM492 262h7v2h-7zM499 232h7v2h-7zM499 236h7v2h-7zM499 244h7v2h-7zM506 100h6v2h-6zM506 102h6v2h-6zM506 214h6v2h-6zM506 244h6v2h-6zM512 193h7v2h-7zM512 212h7v2h-7zM512 309h7v2h-7zM519 141h6v2h-6zM519 145h6v2h-6zM519 147h6v2h-6zM519 157h6v2h-6zM519 171h6v2h-6zM519 183h6v2h-6zM525 106h7v2h-7zM525 112h7v2h-7zM525 114h7v2h-7zM525 138h7v1h-7zM525 145h7v2h-7zM525 183h7v2h-7zM532 321h7v2h-7zM532 323h7v2h-7zM532 325h7v1h-7zM539 240h6v2h-6zM539 250h6v2h-6zM539 254h6v2h-6zM539 289h6v2h-6zM539 291h6v2h-6zM539 293h6v2h-6zM539 295h6v2h-6zM545 303h7v2h-7zM545 313h7v2h-7zM552 262h6v2h-6zM552 264h6v1h-6zM552 275h6v2h-6zM552 291h6v2h-6zM558 214h7v2h-7zM572 171h6v2h-6zM572 177h6v2h-6zM572 319h6v2h-6zM578 100h7v2h-7zM578 214h7v2h-7zM578 216h7v2h-7zM578 321h7v2h-7zM585 128h6v2h-6zM585 134h6v2h-6zM585 157h6v2h-6zM585 159h6v2h-6zM585 240h6v2h-6zM585 244h6v2h-6zM585 252h6v2h-6zM591 143h7v2h-7zM591 151h7v2h-7zM591 250h7v2h-7zM598 98h6v2h-6zM598 100h6v2h-6zM598 177h6v2h-6zM598 201h6v1h-6zM598 252h6v2h-6zM598 260h6v2h-6zM604 124h7v2h-7zM604 138h7v1h-7zM604 273h7v2h-7zM604 279h7v2h-7zM604 283h7v2h-7zM611 214h7v2h-7zM611 220h7v2h-7zM611 228h7v2h-7zM618 157h6v2h-6zM618 216h6v2h-6zM618 236h6v2h-6zM618 289h6v2h-6zM624 232h7v2h-7zM624 301h7v2h-7zM631 141h6v2h-6zM631 145h6v2h-6zM631 147h6v2h-6zM631 157h6v2h-6zM631 297h6v2h-6zM637 110h7v2h-7zM637 130h7v2h-7zM637 155h7v2h-7zM637 163h7v2h-7zM637 165h7v2h-7zM637 297h7v2h-7zM644 299h7v2h-7zM644 313h7v2h-7zM651 232h6v2h-6zM651 234h6v2h-6zM651 307h6v2h-6zM657 114h5v2h-5zM657 309h5v2h-5zM657 313h5v2h-5z" fill="rgb(255,34,34)" shape-rendering="crispEdges"/>
<path d="M440 260h6v2h-6zM440 303h6v2h-6zM440 309h6v2h-6zM446 206h7v2h-7zM446 212h7v2h-7zM446 262h7v2h-7zM446 303h7v2h-7zM453 159h7v2h-7zM453 204h7v2h-7zM453 293h7v2h-7zM453 299h7v2h-7zM453 303h7v2h-7zM460 195h6v2h-6zM460 206h6v2h-6zM460 208h6v2h-6zM460 244h6v2h-6zM460 293h6v2h-6zM460 295h6v2h-6zM466 179h7v2h-7zM466 183h7v2h-7zM466 187h7v2h-7zM466 236h7v2h-7zM473 157h6v2h-6zM473 175h6v2h-6zM473 228h6v2h-6zM473 293h6v2h-6zM479 281h7v2h-7zM479 285h7v2h-7zM486 199h6v2h-6zM486 201h6v1h-6zM492 98h7v2h-7zM492 100h7v2h-7zM492 102h7v2h-7zM492 104h7v2h-7zM492 189h7v2h-7zM492 191h7v2h-7zM492 264h7v1h-7zM492 267h7v2h-7zM492 273h7v2h-7zM499 234h7v2h-7zM499 250h7v2h-7zM499 264h7v1h-7zM499 265h7v2h-7zM499 267h7v2h-7zM499 273h7v2h-7zM506 106h6v2h-6zM506 108h6v2h-6zM506 110h6v2h-6zM506 222h6v2h-6zM512 183h7v2h-7zM512 187h7v2h-7zM519 136h6v2h-6zM519 149h6v2h-6zM519 153h6v2h-6zM519 155h6v2h-6zM519 169h6v2h-6zM525 136h7v2h-7zM525 143h7v2h-7zM525 171h7v2h-7zM525 187h7v2h-7zM532 309h7v2h-7zM532 313h7v2h-7zM532 315h7v2h-7zM539 236h6v2h-6zM539 238h6v2h-6zM539 260h6v2h-6zM539 265h6v2h-6zM539 275h6v2h-6zM539 281h6v2h-6zM539 287h6v2h-6zM539 301h6v2h-6zM539 323h6v2h-6zM545 307h7v2h-7zM545 319h7v2h-7zM552 281h6v2h-6zM552 295h6v2h-6zM552 305h6v2h-6zM552 307h6v2h-6zM552 309h6v2h-6zM552 321h6v2h-6zM552 325h6v1h-6zM565 291h7v2h-7zM565 301h7v2h-7zM565 311h7v2h-7zM572 167h6v2h-6zM572 191h6v2h-6zM572 234h6v2h-6zM572 238h6v2h-6zM578 98h7v2h-7zM578 104h7v2h-7zM578 106h7v2h-7zM578 248h7v2h-7zM578 319h7v2h-7zM585 242h6v2h-6zM591 258h7v2h-7zM591 262h7v2h-7zM598 183h6v2h-6zM598 208h6v2h-6zM598 254h6v2h-6zM598 273h6v2h-6zM604 285h7v2h-7zM611 147h7v2h-7zM611 275h7v2h-7zM611 283h7v2h-7zM611 293h7v2h-7zM618 112h6v2h-6zM618 242h6v2h-6zM618 287h6v2h-6zM624 236h7v2h-7zM624 303h7v2h-7zM631 153h6v2h-6zM631 293h6v2h-6zM631 295h6v2h-6zM637 301h7v2h-7zM637 305h7v2h-7zM644 214h7v2h-7zM644 297h7v2h-7zM644 311h7v2h-7zM651 179h6v2h-6zM651 222h6v2h-6zM651 228h6v2h-6zM651 262h6v2h-6zM651 265h6v2h-6zM651 305h6v2h-6zM657 230h5v2h-5zM657 303h5v2h-5zM657 307h5v2h-5z" fill="rgb(255,19,19)" shape-rendering="crispEdges"/>
<path d="M440 256h6v2h-6zM440 258h6v2h-6zM440 273h6v2h-6zM446 258h7v2h-7zM446 260h7v2h-7zM446 301h7v2h-7zM446 305h7v2h-7zM453 151h7v2h-7zM453 155h7v2h-7zM453 201h7v1h-7zM453 256h7v2h-7zM460 141h6v2h-6zM460 202h6v2h-6zM460 291h6v2h-6zM466 285h7v2h-7zM466 293h7v2h-7zM473 167h6v2h-6zM473 173h6v2h-6zM473 179h6v2h-6zM473 226h6v2h-6zM473 232h6v2h-6zM479 169h7v2h-7zM479 226h7v2h-7zM486 126h6v2h-6zM486 195h6v2h-6zM486 210h6v2h-6zM486 279h6v2h-6zM486 281h6v2h-6zM486 283h6v2h-6zM492 132h7v2h-7zM492 199h7v2h-7zM492 277h7v2h-7zM499 240h7v2h-7zM499 242h7v2h-7zM499 246h7v2h-7zM506 98h6v2h-6zM506 114h6v2h-6zM506 126h6v2h-6zM506 216h6v2h-6zM506 220h6v2h-6zM506 234h6v2h-6zM506 236h6v2h-6zM512 189h7v2h-7zM512 323h7v2h-7zM519 126h6v2h-6zM519 128h6v2h-6zM519 319h6v2h-6zM525 102h7v2h-7zM525 147h7v2h-7zM525 155h7v2h-7zM525 167h7v2h-7zM525 177h7v2h-7zM525 189h7v2h-7zM539 277h6v2h-6zM539 299h6v2h-6zM539 303h6v2h-6zM539 305h6v2h-6zM539 325h6v1h-6zM545 305h7v2h-7zM545 321h7v2h-7zM552 277h6v2h-6zM552 285h6v2h-6zM552 287h6v2h-6zM552 289h6v2h-6zM552 299h6v2h-6zM565 299h7v2h-7zM565 315h7v2h-7zM572 187h6v2h-6zM572 323h6v2h-6zM578 220h7v2h-7zM578 222h7v2h-7zM578 228h7v2h-7zM578 230h7v2h-7zM585 248h6v2h-6zM585 250h6v2h-6zM591 155h7v2h-7zM591 264h7v1h-7zM598 258h6v2h-6zM598 265h6v2h-6zM611 218h7v2h-7zM611 224h7v2h-7zM611 289h7v2h-7zM618 167h6v2h-6zM618 218h6v2h-6zM618 279h6v2h-6zM631 102h6v2h-6zM631 208h6v2h-6zM631 299h6v2h-6zM637 124h7v2h-7zM637 293h7v2h-7zM644 212h7v2h-7zM644 218h7v2h-7zM651 177h6v2h-6zM651 230h6v2h-6zM651 260h6v2h-6zM657 185h5v2h-5zM657 187h5v2h-5zM657 224h5v2h-5zM657 226h5v2h-5z" fill="rgb(255,3,3)" shape-rendering="crispEdges"/>
<path d="M440 214h6v2h-6zM440 269h6v2h-6zM446 265h7v2h-7zM453 153h7v2h-7zM453 161h7v2h-7zM460 191h6v2h-6zM460 199h6v2h-6zM466 185h7v2h-7zM466 240h7v2h-7zM466 289h7v2h-7zM473 120h6v2h-6zM473 159h6v2h-6zM473 163h6v2h-6zM479 159h7v2h-7zM486 193h6v2h-6zM486 202h6v2h-6zM486 264h6v1h-6zM492 112h7v2h-7zM492 122h7v2h-7zM492 124h7v2h-7zM492 126h7v2h-7zM492 128h7v2h-7zM492 130h7v2h-7zM492 197h7v2h-7zM499 256h7v2h-7zM506 118h6v2h-6zM506 134h6v2h-6zM506 218h6v2h-6zM506 230h6v2h-6zM506 232h6v2h-6zM506 240h6v2h-6zM512 204h7v2h-7zM512 208h7v2h-7zM519 130h6v2h-6zM519 138h6v1h-6zM519 163h6v2h-6zM525 98h7v2h-7zM525 151h7v2h-7zM525 169h7v2h-7zM525 179h7v2h-7zM532 317h7v2h-7zM539 309h6v2h-6zM539 321h6v2h-6zM545 309h7v2h-7zM552 283h6v2h-6zM565 313h7v2h-7zM572 206h6v2h-6zM578 232h7v2h-7zM578 236h7v2h-7zM578 323h7v2h-7zM578 325h7v1h-7zM591 265h7v2h-7zM611 273h7v2h-7zM618 228h6v2h-6zM618 277h6v2h-6zM618 285h6v2h-6zM624 291h7v2h-7zM624 297h7v2h-7zM631 98h6v2h-6zM631 301h6v2h-6zM637 126h7v2h-7zM651 226h6v2h-6zM651 303h6v2h-6zM657 189h5v2h-5zM657 311h5v2h-5z" fill="rgb(243,0,0)" shape-rendering="crispEdges"/>
<path d="M440 222h6v2h-6zM440 271h6v2h-6zM440 307h6v2h-6zM440 311h6v2h-6zM446 210h7v2h-7zM453 246h7v2h-7zM460 147h6v2h-6zM460 197h6v2h-6zM466 197h7v2h-7zM479 214h7v2h-7zM479 222h7v2h-7zM492 110h7v2h-7zM499 248h7v2h-7zM499 254h7v2h-7zM499 258h7v2h-7zM512 179h7v2h-7zM512 197h7v2h-7zM512 206h7v2h-7zM512 214h7v2h-7zM512 315h7v2h-7zM519 151h6v2h-6zM539 262h6v2h-6zM539 285h6v2h-6zM539 313h6v2h-6zM539 315h6v2h-6zM545 311h7v2h-7zM545 323h7v2h-7zM552 297h6v2h-6zM552 301h6v2h-6zM565 317h7v2h-7zM565 319h7v2h-7zM572 236h6v2h-6zM578 218h7v2h-7zM578 238h7v2h-7zM578 246h7v2h-7zM618 291h6v2h-6zM631 104h6v2h-6zM631 139h6v2h-6zM651 224h6v2h-6zM657 191h5v2h-5zM657 228h5v2h-5zM657 232h5v2h-5zM657 234h5v2h-5z" fill="rgb(229,0,0)" shape-rendering="crispEdges"/>
<path d="M446 214h7v2h-7zM446 254h7v2h-7zM466 287h7v2h-7zM466 291h7v2h-7zM492 269h7v2h-7zM499 252h7v2h-7zM506 130h6v2h-6zM506 226h6v2h-6zM506 246h6v2h-6zM519 159h6v2h-6zM539 307h6v2h-6zM552 279h6v2h-6zM565 293h7v2h-7zM565 325h7v1h-7zM598 269h6v2h-6zM624 295h7v2h-7zM631 100h6v2h-6zM657 236h5v2h-5z" fill="rgb(215,0,0)" shape-rendering="crispEdges"/>
<path d="M446 218h7v2h-7zM486 269h6v2h-6zM499 269h7v2h-7zM506 224h6v2h-6zM506 228h6v2h-6zM512 317h7v2h-7zM512 321h7v2h-7zM512 325h7v1h-7zM519 134h6v2h-6zM519 175h6v2h-6zM552 319h6v2h-6zM578 242h7v2h-7zM624 293h7v2h-7z" fill="rgb(200,0,0)" shape-rendering="crispEdges"/>
<path d="M512 319h7v2h-7zM519 173h6v2h-6zM578 234h7v2h-7zM578 244h7v2h-7zM624 289h7v2h-7z" fill="rgb(186,0,0)" shape-rendering="crispEdges"/>
<path d="M446 216h7v2h-7zM466 295h7v2h-7zM492 275h7v2h-7zM539 317h6v2h-6zM539 319h6v2h-6zM565 321h7v2h-7zM578 240h7v2h-7z" fill="rgb(171,0,0)" shape-rendering="crispEdges"/>
<path d="M492 271h7v2h-7zM565 323h7v2h-7zM618 281h6v2h-6zM618 283h6v2h-6z" fill="rgb(157,0,0)" shape-rendering="crispEdges"/>
<path d="M539 311h6v2h-6z" fill="rgb(128,0,0)" shape-rendering="crispEdges"/>
<rect x="440.10" y="97.80" width="222.50" height="228.90" fill="none" stroke="#000" stroke-width="2.00"/>
<line x1="433.00" y1="316.69" x2="440.10" y2="316.69" stroke="#000" stroke-width="2.00" stroke-linecap="butt"/>
<line x1="433.00" y1="297.00" x2="440.10" y2="297.00" stroke="#000" stroke-width="2.00" stroke-linecap="butt"/>
<line x1="433.00" y1="277.31" x2="440.10" y2="277.31" stroke="#000" stroke-width="2.00" stroke-linecap="butt"/>
<line x1="433.00" y1="257.62" x2="440.10" y2="257.62" stroke="#000" stroke-width="2.00" stroke-linecap="butt"/>
<line x1="433.00" y1="237.93" x2="440.10" y2="237.93" stroke="#000" stroke-width="2.00" stroke-linecap="butt"/>
<line x1="433.00" y1="218.24" x2="440.10" y2="218.24" stroke="#000" stroke-width="2.00" stroke-linecap="butt"/>
<line x1="433.00" y1="198.55" x2="440.10" y2="198.55" stroke="#000" stroke-width="2.00" stroke-linecap="butt"/>
<line x1="433.00" y1="178.86" x2="440.10" y2="178.86" stroke="#000" stroke-width="2.00" stroke-linecap="butt"/>
<line x1="433.00" y1="159.17" x2="440.10" y2="159.17" stroke="#000" stroke-width="2.00" stroke-linecap="butt"/>
<line x1="433.00" y1="139.48" x2="440.10" y2="139.48" stroke="#000" stroke-width="2.00" stroke-linecap="butt"/>
<line x1="433.00" y1="119.79" x2="440.10" y2="119.79" stroke="#000" stroke-width="2.00" stroke-linecap="butt"/>
<line x1="433.00" y1="100.10" x2="440.10" y2="100.10" stroke="#000" stroke-width="2.00" stroke-linecap="butt"/>
<line x1="440.10" y1="326.70" x2="440.10" y2="334.00" stroke="#000" stroke-width="2.00" stroke-linecap="butt"/>
<line x1="551.20" y1="326.70" x2="551.20" y2="334.00" stroke="#000" stroke-width="2.00" stroke-linecap="butt"/>
<line x1="659.30" y1="326.70" x2="659.30" y2="334.00" stroke="#000" stroke-width="2.00" stroke-linecap="butt"/>
<text transform="translate(391.38,107.20) scale(1.0270,1)" font-size="19.79" fill="#000">120</text>
<text transform="translate(402.16,205.65) scale(1.0527,1)" font-size="19.79" fill="#000">70</text>
<text transform="translate(401.97,304.10) scale(1.0454,1)" font-size="19.65" fill="#000">20</text>
<text transform="translate(423.40,358.10) scale(1.0317,1)" font-size="19.51" fill="#000">–50</text>
<text transform="translate(545.36,358.30) scale(1.0434,1)" font-size="20.07" fill="#000">0</text>
<text transform="translate(647.77,358.30) scale(1.0523,1)" font-size="19.79" fill="#000">50</text>
<text transform="translate(514.73,390.40) scale(0.9431,1)" font-size="20.07" fill="#000">Δ</text>
<text transform="translate(526.48,390.40) scale(0.9474,1)" font-size="20.00" fill="#000" font-style="italic">f</text>
<text transform="translate(537.94,390.21) scale(1.0204,1)" font-size="19.73" fill="#000">(MHz)</text>
<text transform="translate(380.51,248.84) rotate(-90) scale(1.0047,1)" font-size="19.36" fill="#000" font-family="Liberation Serif" font-style="italic">τ</text>
<text transform="translate(386.86,239.67) rotate(-90) scale(1.0159,1)" font-size="13.61" fill="#000">wait</text>
<text transform="translate(380.65,209.35) rotate(-90) scale(0.9734,1)" font-size="20.48" fill="#000">(ns)</text>
<rect x="478.4" y="68.9" width="138.8" height="15.8" fill="url(#cbar)"/>
<rect x="477.50" y="68.10" width="140.60" height="17.50" fill="none" stroke="#000" stroke-width="1.90"/>
<line x1="499.20" y1="59.00" x2="499.20" y2="68.10" stroke="#000" stroke-width="1.90" stroke-linecap="butt"/>
<line x1="599.20" y1="59.00" x2="599.20" y2="68.10" stroke="#000" stroke-width="1.90" stroke-linecap="butt"/>
<text transform="translate(471.80,49.80) scale(0.9956,1)" font-size="20.49" fill="#000">–0.04</text>
<text transform="translate(573.50,49.80) scale(0.9887,1)" font-size="20.49" fill="#000">–0.05</text>
<text transform="translate(503.36,14.60) scale(0.9131,1)" font-size="20.22" fill="#000" font-style="italic">I</text>
<text transform="translate(507.78,19.96) scale(1.0240,1)" font-size="13.99" fill="#000">CORR</text>
<text transform="translate(554.91,14.61) scale(1.0480,1)" font-size="19.73" fill="#000">(pA)</text>
<rect x="94.20" y="426.80" width="222.20" height="202.20" fill="none" stroke="#000" stroke-width="2.00"/>
<line x1="87.20" y1="452.70" x2="94.20" y2="452.70" stroke="#000" stroke-width="2.00" stroke-linecap="butt"/>
<line x1="87.20" y1="482.03" x2="94.20" y2="482.03" stroke="#000" stroke-width="2.00" stroke-linecap="butt"/>
<line x1="87.20" y1="511.37" x2="94.20" y2="511.37" stroke="#000" stroke-width="2.00" stroke-linecap="butt"/>
<line x1="87.20" y1="540.71" x2="94.20" y2="540.71" stroke="#000" stroke-width="2.00" stroke-linecap="butt"/>
<line x1="87.20" y1="570.04" x2="94.20" y2="570.04" stroke="#000" stroke-width="2.00" stroke-linecap="butt"/>
<line x1="87.20" y1="599.38" x2="94.20" y2="599.38" stroke="#000" stroke-width="2.00" stroke-linecap="butt"/>
<line x1="87.20" y1="628.71" x2="94.20" y2="628.71" stroke="#000" stroke-width="2.00" stroke-linecap="butt"/>
<line x1="112.22" y1="629.00" x2="112.22" y2="636.60" stroke="#000" stroke-width="2.00" stroke-linecap="butt"/>
<line x1="130.00" y1="629.00" x2="130.00" y2="636.60" stroke="#000" stroke-width="2.00" stroke-linecap="butt"/>
<line x1="147.78" y1="629.00" x2="147.78" y2="636.60" stroke="#000" stroke-width="2.00" stroke-linecap="butt"/>
<line x1="165.56" y1="629.00" x2="165.56" y2="636.60" stroke="#000" stroke-width="2.00" stroke-linecap="butt"/>
<line x1="183.34" y1="629.00" x2="183.34" y2="636.60" stroke="#000" stroke-width="2.00" stroke-linecap="butt"/>
<line x1="201.12" y1="629.00" x2="201.12" y2="636.60" stroke="#000" stroke-width="2.00" stroke-linecap="butt"/>
<line x1="218.90" y1="629.00" x2="218.90" y2="636.60" stroke="#000" stroke-width="2.00" stroke-linecap="butt"/>
<line x1="236.68" y1="629.00" x2="236.68" y2="636.60" stroke="#000" stroke-width="2.00" stroke-linecap="butt"/>
<line x1="254.46" y1="629.00" x2="254.46" y2="636.60" stroke="#000" stroke-width="2.00" stroke-linecap="butt"/>
<line x1="272.24" y1="629.00" x2="272.24" y2="636.60" stroke="#000" stroke-width="2.00" stroke-linecap="butt"/>
<line x1="290.02" y1="629.00" x2="290.02" y2="636.60" stroke="#000" stroke-width="2.00" stroke-linecap="butt"/>
<line x1="307.80" y1="629.00" x2="307.80" y2="636.60" stroke="#000" stroke-width="2.00" stroke-linecap="butt"/>
<text transform="translate(39.88,458.90) scale(1.0474,1)" font-size="19.51" fill="#000">0.25</text>
<text transform="translate(39.67,518.00) scale(1.0466,1)" font-size="19.93" fill="#000">0.15</text>
<text transform="translate(39.67,576.90) scale(1.0541,1)" font-size="19.79" fill="#000">0.05</text>
<text transform="translate(29.30,636.00) scale(1.0282,1)" font-size="19.79" fill="#000">–0.05</text>
<text transform="translate(118.37,660.61) scale(1.0735,1)" font-size="19.22" fill="#000">20</text>
<text transform="translate(207.67,660.61) scale(1.0735,1)" font-size="19.22" fill="#000">70</text>
<text transform="translate(291.49,660.30) scale(1.0278,1)" font-size="19.65" fill="#000">120</text>
<text transform="translate(156.00,689.70) scale(1.1096,1)" font-size="20.00" fill="#000" font-family="Liberation Serif" font-style="italic">τ</text>
<text transform="translate(165.13,695.27) scale(1.0220,1)" font-size="13.47" fill="#000">wait</text>
<text transform="translate(195.65,689.66) scale(1.0058,1)" font-size="19.95" fill="#000">(ns)</text>
<text transform="translate(16.10,573.35) rotate(-90) scale(1.1574,1)" font-size="20.51" fill="#000" font-style="italic">I</text>
<text transform="translate(23.03,568.02) rotate(-90) scale(0.8707,1)" font-size="16.54" fill="#000">CORR</text>
<text transform="translate(16.73,520.26) rotate(-90) scale(0.9796,1)" font-size="20.59" fill="#000">(pA)</text>
<text transform="translate(236.75,460.20) scale(1.0322,1)" font-size="19.51" fill="#1010d0">40 MHz</text>
<text transform="translate(235.78,522.41) scale(1.1028,1)" font-size="18.52" fill="#0a8c0a">25 MHz</text>
<text transform="translate(235.68,578.91) scale(1.0687,1)" font-size="18.94" fill="#d200c0">19 MHz</text>
<path d="M104.60,497.61 L106.31,498.86 L108.02,498.97 L109.73,497.95 L111.45,495.85 L113.16,492.83 L114.87,489.06 L116.58,484.81 L118.29,480.33 L120.00,475.93 L121.72,471.88 L123.43,468.45 L125.14,465.85 L126.85,464.25 L128.56,463.75 L130.28,464.38 L131.99,466.09 L133.70,468.78 L135.41,472.27 L137.12,476.32 L138.83,480.68 L140.55,485.06 L142.26,489.18 L143.97,492.79 L145.68,495.63 L147.39,497.55 L149.10,498.42 L150.81,498.18 L152.53,496.86 L154.24,494.54 L155.95,491.39 L157.66,487.61 L159.37,483.44 L161.08,479.15 L162.80,475.03 L164.51,471.33 L166.22,468.29 L167.93,466.11 L169.64,464.91 L171.36,464.77 L173.07,465.70 L174.78,467.62 L176.49,470.40 L178.20,473.87 L179.91,477.79 L181.62,481.90 L183.34,485.95 L185.05,489.67 L186.76,492.83 L188.47,495.22 L190.18,496.71 L191.89,497.19 L193.61,496.65 L195.32,495.13 L197.03,492.74 L198.74,489.63 L200.45,486.01 L202.17,482.13 L203.88,478.22 L205.59,474.55 L207.30,471.34 L209.01,468.80 L210.72,467.09 L212.44,466.30 L214.15,466.48 L215.86,467.61 L217.57,469.60 L219.28,472.33 L220.99,475.60 L222.70,479.20 L224.42,482.90 L226.13,486.46 L227.84,489.65 L229.55,492.27 L231.26,494.16 L232.97,495.20 L234.69,495.35 L236.40,494.59 L238.11,492.99 L239.82,490.66 L241.53,487.76 L243.25,484.48 L244.96,481.03 L246.67,477.65 L248.38,474.54 L250.09,471.90 L251.80,469.90 L253.51,468.65 L255.23,468.23 L256.94,468.65 L258.65,469.87 L260.36,471.81 L262.07,474.33 L263.78,477.26 L265.50,480.41 L267.21,483.57 L268.92,486.55 L270.63,489.14 L272.34,491.20 L274.06,492.59 L275.77,493.25 L277.48,493.13 L279.19,492.25 L280.90,490.69 L282.61,488.55 L284.32,485.98 L286.04,483.15 L287.75,480.25 L289.46,477.45 L291.17,474.95 L292.88,472.90 L294.60,471.41 L296.31,470.58 L298.02,470.45 L299.73,471.01 L301.44,472.23 L303.15,474.00 L304.87,476.21 L306.58,478.70 L308.29,481.32 L310.00,483.89" fill="none" stroke="#0000f0" stroke-width="0.8"/>
<path d="M104.45,497.88h0.3M106.28,502.37h0.3M108.12,496.22h0.3M109.95,500.28h0.3M111.79,494.26h0.3M113.62,490.75h0.3M115.45,492.56h0.3M117.29,483.01h0.3M119.12,477.70h0.3M120.96,475.37h0.3M122.79,472.58h0.3M124.62,466.32h0.3M126.46,466.12h0.3M128.29,461.06h0.3M130.12,463.35h0.3M131.96,465.06h0.3M133.79,465.55h0.3M135.63,468.91h0.3M137.46,473.01h0.3M139.29,481.57h0.3M141.13,486.34h0.3M142.96,490.09h0.3M144.80,494.61h0.3M146.63,493.13h0.3M148.46,497.95h0.3M150.30,498.90h0.3M152.13,499.15h0.3M153.97,492.34h0.3M155.80,490.27h0.3M157.63,481.67h0.3M159.47,481.41h0.3M161.30,472.12h0.3M163.14,469.99h0.3M164.97,473.33h0.3M166.80,461.19h0.3M168.64,467.74h0.3M170.47,465.75h0.3M172.31,464.49h0.3M174.14,468.35h0.3M175.97,471.28h0.3M177.81,476.30h0.3M179.64,476.86h0.3M181.47,480.25h0.3M183.31,484.53h0.3M185.14,487.36h0.3M186.98,493.22h0.3M188.81,493.45h0.3M190.64,499.87h0.3M192.48,491.72h0.3M194.31,492.83h0.3M196.15,491.09h0.3M197.98,484.88h0.3M199.81,492.37h0.3M201.65,476.22h0.3M203.48,477.99h0.3M205.32,473.34h0.3M207.15,475.98h0.3M208.98,463.12h0.3M210.82,469.98h0.3M212.65,464.29h0.3M214.49,466.37h0.3M216.32,466.44h0.3M218.15,472.56h0.3M219.99,470.78h0.3M221.82,477.43h0.3M223.66,482.57h0.3M225.49,490.59h0.3M227.32,482.23h0.3M229.16,496.16h0.3M230.99,496.68h0.3M232.82,493.85h0.3M234.66,496.15h0.3M236.49,493.06h0.3M238.33,497.10h0.3M240.16,490.42h0.3M241.99,485.98h0.3M243.83,482.36h0.3M245.66,478.78h0.3M247.50,475.38h0.3M249.33,470.38h0.3M251.16,476.23h0.3M253.00,463.57h0.3M254.83,458.19h0.3M256.67,468.27h0.3M258.50,469.46h0.3M260.33,473.03h0.3M262.17,474.17h0.3M264.00,477.52h0.3M265.84,482.24h0.3M267.67,487.35h0.3M269.50,486.40h0.3M271.34,489.13h0.3M273.17,497.43h0.3M275.01,494.50h0.3M276.84,490.40h0.3M278.67,498.94h0.3M280.51,493.08h0.3M282.34,487.05h0.3M284.18,482.69h0.3M286.01,483.78h0.3M287.84,477.52h0.3M289.68,473.96h0.3M291.51,470.74h0.3M293.34,470.95h0.3M295.18,474.16h0.3M297.01,469.30h0.3M298.85,466.71h0.3M300.68,473.67h0.3M302.51,473.68h0.3M304.35,478.10h0.3M306.18,481.71h0.3M308.02,480.66h0.3M309.85,483.49h0.3" stroke="#0000f0" stroke-width="2.2" stroke-linecap="round" fill="none"/>
<path d="M104.60,545.48 L106.31,548.12 L108.02,550.56 L109.73,552.72 L111.45,554.55 L113.16,556.00 L114.87,557.04 L116.58,557.63 L118.29,557.76 L120.00,557.44 L121.72,556.66 L123.43,555.45 L125.14,553.85 L126.85,551.89 L128.56,549.63 L130.28,547.14 L131.99,544.47 L133.70,541.71 L135.41,538.92 L137.12,536.18 L138.83,533.56 L140.55,531.13 L142.26,528.96 L143.97,527.10 L145.68,525.61 L147.39,524.51 L149.10,523.83 L150.81,523.60 L152.53,523.82 L154.24,524.47 L155.95,525.55 L157.66,527.01 L159.37,528.82 L161.08,530.92 L162.80,533.26 L164.51,535.78 L166.22,538.41 L167.93,541.07 L169.64,543.70 L171.36,546.22 L173.07,548.57 L174.78,550.69 L176.49,552.52 L178.20,554.02 L179.91,555.14 L181.62,555.87 L183.34,556.18 L185.05,556.07 L186.76,555.55 L188.47,554.63 L190.18,553.34 L191.89,551.72 L193.61,549.81 L195.32,547.67 L197.03,545.36 L198.74,542.94 L200.45,540.47 L202.17,538.02 L203.88,535.66 L205.59,533.44 L207.30,531.43 L209.01,529.68 L210.72,528.23 L212.44,527.12 L214.15,526.37 L215.86,526.00 L217.57,526.01 L219.28,526.40 L220.99,527.16 L222.70,528.26 L224.42,529.67 L226.13,531.35 L227.84,533.25 L229.55,535.31 L231.26,537.49 L232.97,539.72 L234.69,541.93 L236.40,544.08 L238.11,546.11 L239.82,547.96 L241.53,549.59 L243.25,550.95 L244.96,552.02 L246.67,552.76 L248.38,553.17 L250.09,553.24 L251.80,552.96 L253.51,552.36 L255.23,551.45 L256.94,550.26 L258.65,548.82 L260.36,547.19 L262.07,545.40 L263.78,543.50 L265.50,541.55 L267.21,539.60 L268.92,537.69 L270.63,535.89 L272.34,534.24 L274.06,532.77 L275.77,531.53 L277.48,530.54 L279.19,529.83 L280.90,529.40 L282.61,529.28 L284.32,529.45 L286.04,529.91 L287.75,530.64 L289.46,531.61 L291.17,532.80 L292.88,534.17 L294.60,535.68 L296.31,537.29 L298.02,538.95 L299.73,540.62 L301.44,542.26 L303.15,543.82 L304.87,545.26 L306.58,546.54 L308.29,547.64 L310.00,548.53" fill="none" stroke="#0a8c0a" stroke-width="0.8"/>
<path d="M104.45,545.36h0.3M106.28,545.12h0.3M108.12,552.74h0.3M109.95,556.95h0.3M111.79,555.45h0.3M113.62,555.71h0.3M115.45,556.56h0.3M117.29,555.51h0.3M119.12,555.33h0.3M120.96,555.81h0.3M122.79,553.44h0.3M124.62,552.96h0.3M126.46,547.75h0.3M128.29,550.77h0.3M130.12,547.28h0.3M131.96,541.05h0.3M133.79,534.87h0.3M135.63,538.31h0.3M137.46,538.52h0.3M139.29,530.64h0.3M141.13,528.85h0.3M142.96,526.44h0.3M144.80,528.08h0.3M146.63,522.33h0.3M148.46,526.79h0.3M150.30,522.80h0.3M152.13,526.38h0.3M153.97,524.52h0.3M155.80,524.90h0.3M157.63,523.00h0.3M159.47,527.19h0.3M161.30,530.69h0.3M163.14,535.83h0.3M164.97,537.41h0.3M166.80,537.60h0.3M168.64,543.53h0.3M170.47,547.90h0.3M172.31,547.32h0.3M174.14,548.86h0.3M175.97,551.03h0.3M177.81,556.07h0.3M179.64,556.57h0.3M181.47,553.27h0.3M183.31,557.22h0.3M185.14,554.65h0.3M186.98,553.25h0.3M188.81,557.73h0.3M190.64,555.06h0.3M192.48,548.87h0.3M194.31,548.97h0.3M196.15,547.76h0.3M197.98,542.01h0.3M199.81,540.84h0.3M201.65,540.41h0.3M203.48,530.98h0.3M205.32,534.52h0.3M207.15,533.50h0.3M208.98,530.99h0.3M210.82,524.32h0.3M212.65,527.85h0.3M214.49,523.84h0.3M216.32,527.60h0.3M218.15,527.87h0.3M219.99,527.39h0.3M221.82,525.65h0.3M223.66,527.52h0.3M225.49,533.26h0.3M227.32,530.33h0.3M229.16,536.41h0.3M230.99,538.77h0.3M232.82,538.94h0.3M234.66,548.79h0.3M236.49,544.57h0.3M238.33,552.52h0.3M240.16,542.78h0.3M241.99,543.79h0.3M243.83,554.15h0.3M245.66,554.17h0.3M247.50,552.12h0.3M249.33,553.06h0.3M251.16,547.71h0.3M253.00,550.73h0.3M254.83,548.68h0.3M256.67,549.72h0.3M258.50,551.31h0.3M260.33,547.21h0.3M262.17,546.17h0.3M264.00,541.13h0.3M265.84,539.77h0.3M267.67,539.23h0.3M269.50,536.13h0.3M271.34,538.60h0.3M273.17,530.95h0.3M275.01,537.26h0.3M276.84,528.07h0.3M278.67,532.95h0.3M280.51,527.30h0.3M282.34,533.90h0.3M284.18,529.83h0.3M286.01,531.08h0.3M287.84,532.86h0.3M289.68,530.09h0.3M291.51,530.27h0.3M293.34,529.03h0.3M295.18,539.79h0.3M297.01,536.17h0.3M298.85,538.25h0.3M300.68,541.59h0.3M302.51,548.94h0.3M304.35,540.11h0.3M306.18,547.06h0.3M308.02,546.45h0.3M309.85,550.02h0.3" stroke="#0a8c0a" stroke-width="2.2" stroke-linecap="round" fill="none"/>
<path d="M104.60,591.68 L106.31,594.04 L108.02,596.48 L109.73,598.95 L111.45,601.42 L113.16,603.85 L114.87,606.19 L116.58,608.41 L118.29,610.47 L120.00,612.34 L121.72,613.98 L123.43,615.38 L125.14,616.51 L126.85,617.34 L128.56,617.88 L130.28,618.11 L131.99,618.02 L133.70,617.62 L135.41,616.92 L137.12,615.93 L138.83,614.66 L140.55,613.15 L142.26,611.40 L143.97,609.46 L145.68,607.36 L147.39,605.12 L149.10,602.80 L150.81,600.42 L152.53,598.02 L154.24,595.66 L155.95,593.35 L157.66,591.14 L159.37,589.08 L161.08,587.18 L162.80,585.48 L164.51,584.01 L166.22,582.79 L167.93,581.83 L169.64,581.16 L171.36,580.78 L173.07,580.70 L174.78,580.92 L176.49,581.42 L178.20,582.21 L179.91,583.26 L181.62,584.55 L183.34,586.08 L185.05,587.80 L186.76,589.69 L188.47,591.71 L190.18,593.84 L191.89,596.03 L193.61,598.26 L195.32,600.48 L197.03,602.65 L198.74,604.75 L200.45,606.74 L202.17,608.58 L203.88,610.25 L205.59,611.72 L207.30,612.97 L209.01,613.99 L210.72,614.75 L212.44,615.24 L214.15,615.47 L215.86,615.42 L217.57,615.11 L219.28,614.54 L220.99,613.72 L222.70,612.66 L224.42,611.40 L226.13,609.94 L227.84,608.32 L229.55,606.56 L231.26,604.70 L232.97,602.76 L234.69,600.78 L236.40,598.79 L238.11,596.82 L239.82,594.91 L241.53,593.08 L243.25,591.37 L244.96,589.80 L246.67,588.40 L248.38,587.18 L250.09,586.16 L251.80,585.37 L253.51,584.80 L255.23,584.47 L256.94,584.38 L258.65,584.52 L260.36,584.90 L262.07,585.50 L263.78,586.30 L265.50,587.31 L267.21,588.48 L268.92,589.81 L270.63,591.27 L272.34,592.84 L274.06,594.48 L275.77,596.17 L277.48,597.88 L279.19,599.58 L280.90,601.25 L282.61,602.86 L284.32,604.38 L286.04,605.79 L287.75,607.07 L289.46,608.20 L291.17,609.16 L292.88,609.94 L294.60,610.52 L296.31,610.92 L298.02,611.11 L299.73,611.09 L301.44,610.89 L303.15,610.49 L304.87,609.91 L306.58,609.16 L308.29,608.25 L310.00,607.21" fill="none" stroke="#d200c0" stroke-width="0.8"/>
<path d="M104.45,586.64h0.3M106.28,593.10h0.3M108.12,599.18h0.3M109.95,603.85h0.3M111.79,606.58h0.3M113.62,602.29h0.3M115.45,607.29h0.3M117.29,609.13h0.3M119.12,607.68h0.3M120.96,609.36h0.3M122.79,617.10h0.3M124.62,616.95h0.3M126.46,616.82h0.3M128.29,621.25h0.3M130.12,615.30h0.3M131.96,619.46h0.3M133.79,617.55h0.3M135.63,616.54h0.3M137.46,616.94h0.3M139.29,614.61h0.3M141.13,613.15h0.3M142.96,611.18h0.3M144.80,613.69h0.3M146.63,605.05h0.3M148.46,606.30h0.3M150.30,602.63h0.3M152.13,597.39h0.3M153.97,598.05h0.3M155.80,590.95h0.3M157.63,594.25h0.3M159.47,586.54h0.3M161.30,585.44h0.3M163.14,585.96h0.3M164.97,585.90h0.3M166.80,584.92h0.3M168.64,584.00h0.3M170.47,580.37h0.3M172.31,578.05h0.3M174.14,582.39h0.3M175.97,582.16h0.3M177.81,579.43h0.3M179.64,585.91h0.3M181.47,585.11h0.3M183.31,583.52h0.3M185.14,589.30h0.3M186.98,586.41h0.3M188.81,589.86h0.3M190.64,595.75h0.3M192.48,592.63h0.3M194.31,599.47h0.3M196.15,597.94h0.3M197.98,606.06h0.3M199.81,604.13h0.3M201.65,608.70h0.3M203.48,605.80h0.3M205.32,610.65h0.3M207.15,615.63h0.3M208.98,615.32h0.3M210.82,609.67h0.3M212.65,617.88h0.3M214.49,617.95h0.3M216.32,614.26h0.3M218.15,618.83h0.3M219.99,611.16h0.3M221.82,612.88h0.3M223.66,614.97h0.3M225.49,614.02h0.3M227.32,612.25h0.3M229.16,603.75h0.3M230.99,599.84h0.3M232.82,603.85h0.3M234.66,596.63h0.3M236.49,598.14h0.3M238.33,592.82h0.3M240.16,597.36h0.3M241.99,594.72h0.3M243.83,592.25h0.3M245.66,589.15h0.3M247.50,587.83h0.3M249.33,585.69h0.3M251.16,586.67h0.3M253.00,585.62h0.3M254.83,585.81h0.3M256.67,583.19h0.3M258.50,589.84h0.3M260.33,585.73h0.3M262.17,589.52h0.3M264.00,590.24h0.3M265.84,585.18h0.3M267.67,584.23h0.3M269.50,593.96h0.3M271.34,590.97h0.3M273.17,594.00h0.3M275.01,594.84h0.3M276.84,597.76h0.3M278.67,595.89h0.3M280.51,600.73h0.3M282.34,601.45h0.3M284.18,604.34h0.3M286.01,599.35h0.3M287.84,609.53h0.3M289.68,609.33h0.3M291.51,604.54h0.3M293.34,608.09h0.3M295.18,610.78h0.3M297.01,612.77h0.3M298.85,611.10h0.3M300.68,614.83h0.3M302.51,610.66h0.3M304.35,607.23h0.3M306.18,607.37h0.3M308.02,610.40h0.3M309.85,605.49h0.3" stroke="#d200c0" stroke-width="2.2" stroke-linecap="round" fill="none"/>
<rect x="439.60" y="426.80" width="228.60" height="202.20" fill="none" stroke="#000" stroke-width="2.00"/>
<line x1="432.60" y1="470.60" x2="439.60" y2="470.60" stroke="#000" stroke-width="2.00" stroke-linecap="butt"/>
<line x1="432.60" y1="505.77" x2="439.60" y2="505.77" stroke="#000" stroke-width="2.00" stroke-linecap="butt"/>
<line x1="432.60" y1="540.93" x2="439.60" y2="540.93" stroke="#000" stroke-width="2.00" stroke-linecap="butt"/>
<line x1="432.60" y1="576.10" x2="439.60" y2="576.10" stroke="#000" stroke-width="2.00" stroke-linecap="butt"/>
<line x1="432.60" y1="611.26" x2="439.60" y2="611.26" stroke="#000" stroke-width="2.00" stroke-linecap="butt"/>
<line x1="458.25" y1="629.00" x2="458.25" y2="636.60" stroke="#000" stroke-width="2.00" stroke-linecap="butt"/>
<line x1="477.20" y1="629.00" x2="477.20" y2="636.60" stroke="#000" stroke-width="2.00" stroke-linecap="butt"/>
<line x1="496.15" y1="629.00" x2="496.15" y2="636.60" stroke="#000" stroke-width="2.00" stroke-linecap="butt"/>
<line x1="515.10" y1="629.00" x2="515.10" y2="636.60" stroke="#000" stroke-width="2.00" stroke-linecap="butt"/>
<line x1="534.05" y1="629.00" x2="534.05" y2="636.60" stroke="#000" stroke-width="2.00" stroke-linecap="butt"/>
<line x1="553.00" y1="629.00" x2="553.00" y2="636.60" stroke="#000" stroke-width="2.00" stroke-linecap="butt"/>
<line x1="571.95" y1="629.00" x2="571.95" y2="636.60" stroke="#000" stroke-width="2.00" stroke-linecap="butt"/>
<line x1="590.90" y1="629.00" x2="590.90" y2="636.60" stroke="#000" stroke-width="2.00" stroke-linecap="butt"/>
<line x1="609.85" y1="629.00" x2="609.85" y2="636.60" stroke="#000" stroke-width="2.00" stroke-linecap="butt"/>
<line x1="628.80" y1="629.00" x2="628.80" y2="636.60" stroke="#000" stroke-width="2.00" stroke-linecap="butt"/>
<line x1="647.75" y1="629.00" x2="647.75" y2="636.60" stroke="#000" stroke-width="2.00" stroke-linecap="butt"/>
<text transform="translate(390.58,476.70) scale(1.0465,1)" font-size="19.51" fill="#000">225</text>
<text transform="translate(390.99,547.31) scale(1.0374,1)" font-size="19.43" fill="#000">125</text>
<text transform="translate(401.98,616.82) scale(1.1098,1)" font-size="18.37" fill="#000">25</text>
<text transform="translate(441.60,660.70) scale(1.0077,1)" font-size="20.21" fill="#000">–50</text>
<text transform="translate(547.46,660.70) scale(1.0361,1)" font-size="20.21" fill="#000">0</text>
<text transform="translate(636.17,660.70) scale(1.0302,1)" font-size="20.21" fill="#000">50</text>
<text transform="translate(513.73,693.40) scale(0.9431,1)" font-size="20.07" fill="#000">Δ</text>
<text transform="translate(525.48,693.40) scale(0.9474,1)" font-size="20.00" fill="#000" font-style="italic">f</text>
<text transform="translate(536.94,693.21) scale(1.0204,1)" font-size="19.73" fill="#000">(MHz)</text>
<text transform="translate(372.80,558.30) rotate(-90) scale(0.9354,1)" font-size="21.38" fill="#000" font-style="italic">T</text>
<text transform="translate(370.28,544.10) rotate(-90) scale(0.9700,1)" font-size="17.71" fill="#000">*</text>
<text transform="translate(378.90,544.95) rotate(-90) scale(0.9928,1)" font-size="15.05" fill="#000">2</text>
<text transform="translate(372.95,531.17) rotate(-90) scale(0.9886,1)" font-size="20.48" fill="#000">(ns)</text>
<g fill="#0000ff"><circle cx="458.4" cy="542.2" r="3.3"/><circle cx="464.0" cy="529.9" r="3.3"/><circle cx="469.8" cy="549.7" r="3.3"/><circle cx="475.4" cy="549.0" r="3.3"/><circle cx="481.0" cy="524.2" r="3.3"/><circle cx="486.8" cy="541.0" r="3.3"/><circle cx="492.6" cy="538.2" r="3.3"/><circle cx="498.2" cy="547.1" r="3.3"/><circle cx="503.9" cy="562.0" r="3.3"/><circle cx="509.6" cy="523.8" r="3.3"/><circle cx="515.2" cy="509.8" r="3.3"/><circle cx="520.9" cy="536.6" r="3.3"/><circle cx="526.5" cy="552.7" r="3.3"/><circle cx="571.9" cy="555.7" r="3.3"/><circle cx="577.7" cy="553.6" r="3.3"/><circle cx="583.3" cy="556.4" r="3.3"/><circle cx="589.1" cy="535.5" r="3.3"/><circle cx="594.9" cy="530.3" r="3.3"/><circle cx="600.5" cy="525.7" r="3.3"/><circle cx="606.3" cy="513.6" r="3.3"/><circle cx="611.9" cy="529.8" r="3.3"/><circle cx="617.6" cy="519.6" r="3.3"/><circle cx="623.4" cy="511.2" r="3.3"/><circle cx="629.0" cy="528.5" r="3.3"/><circle cx="634.8" cy="494.7" r="3.3"/><circle cx="640.4" cy="544.6" r="3.3"/><circle cx="646.0" cy="540.3" r="3.3"/></g>
<rect x="439.30" y="729.80" width="229.20" height="230.80" fill="none" stroke="#000" stroke-width="2.00"/>
<line x1="432.40" y1="731.30" x2="439.30" y2="731.30" stroke="#000" stroke-width="2.00" stroke-linecap="butt"/>
<line x1="432.40" y1="757.00" x2="439.30" y2="757.00" stroke="#000" stroke-width="2.00" stroke-linecap="butt"/>
<line x1="432.40" y1="782.00" x2="439.30" y2="782.00" stroke="#000" stroke-width="2.00" stroke-linecap="butt"/>
<line x1="432.40" y1="807.40" x2="439.30" y2="807.40" stroke="#000" stroke-width="2.00" stroke-linecap="butt"/>
<line x1="432.40" y1="832.80" x2="439.30" y2="832.80" stroke="#000" stroke-width="2.00" stroke-linecap="butt"/>
<line x1="432.40" y1="858.00" x2="439.30" y2="858.00" stroke="#000" stroke-width="2.00" stroke-linecap="butt"/>
<line x1="432.40" y1="883.40" x2="439.30" y2="883.40" stroke="#000" stroke-width="2.00" stroke-linecap="butt"/>
<line x1="432.40" y1="908.70" x2="439.30" y2="908.70" stroke="#000" stroke-width="2.00" stroke-linecap="butt"/>
<line x1="432.40" y1="936.20" x2="439.30" y2="936.20" stroke="#000" stroke-width="2.00" stroke-linecap="butt"/>
<line x1="439.30" y1="960.60" x2="439.30" y2="968.30" stroke="#000" stroke-width="2.00" stroke-linecap="butt"/>
<line x1="477.48" y1="960.60" x2="477.48" y2="968.30" stroke="#000" stroke-width="2.00" stroke-linecap="butt"/>
<line x1="515.67" y1="960.60" x2="515.67" y2="968.30" stroke="#000" stroke-width="2.00" stroke-linecap="butt"/>
<line x1="553.85" y1="960.60" x2="553.85" y2="968.30" stroke="#000" stroke-width="2.00" stroke-linecap="butt"/>
<line x1="592.04" y1="960.60" x2="592.04" y2="968.30" stroke="#000" stroke-width="2.00" stroke-linecap="butt"/>
<line x1="630.22" y1="960.60" x2="630.22" y2="968.30" stroke="#000" stroke-width="2.00" stroke-linecap="butt"/>
<line x1="668.40" y1="960.60" x2="668.40" y2="968.30" stroke="#000" stroke-width="2.00" stroke-linecap="butt"/>
<text transform="translate(385.19,737.70) scale(1.0391,1)" font-size="19.51" fill="#000">0.75</text>
<text transform="translate(385.19,788.40) scale(1.0391,1)" font-size="19.51" fill="#000">0.65</text>
<text transform="translate(385.19,839.20) scale(1.0391,1)" font-size="19.51" fill="#000">0.55</text>
<text transform="translate(385.19,889.80) scale(1.0391,1)" font-size="19.51" fill="#000">0.45</text>
<text transform="translate(385.19,942.60) scale(1.0391,1)" font-size="19.51" fill="#000">0.35</text>
<text transform="translate(433.90,991.11) scale(1.0583,1)" font-size="18.80" fill="#000">0</text>
<text transform="translate(499.61,991.11) scale(1.0536,1)" font-size="18.80" fill="#000">120</text>
<text transform="translate(574.97,991.11) scale(1.1009,1)" font-size="18.80" fill="#000">240</text>
<text transform="translate(651.85,991.11) scale(1.0622,1)" font-size="18.80" fill="#000">360</text>
<text transform="translate(527.53,1019.80) scale(1.0458,1)" font-size="19.55" fill="#000" font-family="Liberation Serif">Δ</text>
<text transform="translate(541.90,1019.93) scale(1.1222,1)" font-size="19.61" fill="#000" font-family="Liberation Serif" font-style="italic">ϕ</text>
<text transform="translate(558.92,1019.96) scale(1.0266,1)" font-size="19.95" fill="#000">(°)</text>
<text transform="translate(364.90,868.83) rotate(-90) scale(0.9932,1)" font-size="20.80" fill="#000" font-style="italic">I</text>
<text transform="translate(364.77,858.75) rotate(-90) scale(0.9788,1)" font-size="20.38" fill="#000">(pA)</text>
<g fill="#0000ff"><circle cx="444.0" cy="805.5" r="2.9"/><circle cx="446.3" cy="790.8" r="2.9"/><circle cx="448.8" cy="810.7" r="2.9"/><circle cx="451.1" cy="786.3" r="2.9"/><circle cx="453.3" cy="794.6" r="2.9"/><circle cx="455.5" cy="804.4" r="2.9"/><circle cx="457.9" cy="800.7" r="2.9"/><circle cx="460.1" cy="807.2" r="2.9"/><circle cx="462.5" cy="805.2" r="2.9"/><circle cx="464.8" cy="811.8" r="2.9"/><circle cx="467.2" cy="807.4" r="2.9"/><circle cx="469.5" cy="808.3" r="2.9"/><circle cx="471.9" cy="830.1" r="2.9"/><circle cx="474.2" cy="812.0" r="2.9"/><circle cx="476.3" cy="824.8" r="2.9"/><circle cx="478.8" cy="821.3" r="2.9"/><circle cx="481.4" cy="823.9" r="2.9"/><circle cx="483.3" cy="837.1" r="2.9"/><circle cx="485.8" cy="828.0" r="2.9"/><circle cx="488.1" cy="836.9" r="2.9"/><circle cx="490.3" cy="853.3" r="2.9"/><circle cx="492.8" cy="844.8" r="2.9"/><circle cx="495.1" cy="851.1" r="2.9"/><circle cx="497.3" cy="857.5" r="2.9"/><circle cx="499.8" cy="859.9" r="2.9"/><circle cx="502.0" cy="867.1" r="2.9"/><circle cx="504.4" cy="864.9" r="2.9"/><circle cx="506.6" cy="872.4" r="2.9"/><circle cx="508.8" cy="877.5" r="2.9"/><circle cx="511.2" cy="874.6" r="2.9"/><circle cx="513.6" cy="881.9" r="2.9"/><circle cx="515.8" cy="890.7" r="2.9"/><circle cx="518.4" cy="888.0" r="2.9"/><circle cx="520.6" cy="883.8" r="2.9"/><circle cx="523.2" cy="888.0" r="2.9"/><circle cx="525.0" cy="899.9" r="2.9"/><circle cx="527.4" cy="900.0" r="2.9"/><circle cx="529.8" cy="900.5" r="2.9"/><circle cx="532.3" cy="905.2" r="2.9"/><circle cx="534.4" cy="909.8" r="2.9"/><circle cx="536.7" cy="911.2" r="2.9"/><circle cx="539.0" cy="904.7" r="2.9"/><circle cx="541.3" cy="910.9" r="2.9"/><circle cx="543.7" cy="918.0" r="2.9"/><circle cx="546.0" cy="909.1" r="2.9"/><circle cx="548.2" cy="916.3" r="2.9"/><circle cx="550.6" cy="918.5" r="2.9"/><circle cx="552.8" cy="913.0" r="2.9"/><circle cx="555.2" cy="906.0" r="2.9"/><circle cx="557.6" cy="922.6" r="2.9"/><circle cx="559.8" cy="918.2" r="2.9"/><circle cx="562.2" cy="910.6" r="2.9"/><circle cx="564.6" cy="914.1" r="2.9"/><circle cx="566.8" cy="918.9" r="2.9"/><circle cx="569.0" cy="900.9" r="2.9"/><circle cx="571.6" cy="916.1" r="2.9"/><circle cx="573.5" cy="905.6" r="2.9"/><circle cx="575.7" cy="902.3" r="2.9"/><circle cx="578.0" cy="901.8" r="2.9"/><circle cx="580.6" cy="903.6" r="2.9"/><circle cx="583.0" cy="898.5" r="2.9"/><circle cx="585.4" cy="901.8" r="2.9"/><circle cx="587.6" cy="908.8" r="2.9"/><circle cx="590.1" cy="879.9" r="2.9"/><circle cx="592.3" cy="891.7" r="2.9"/><circle cx="594.7" cy="887.3" r="2.9"/><circle cx="596.8" cy="875.9" r="2.9"/><circle cx="599.3" cy="872.4" r="2.9"/><circle cx="601.7" cy="871.1" r="2.9"/><circle cx="604.1" cy="870.2" r="2.9"/><circle cx="606.3" cy="870.8" r="2.9"/><circle cx="608.5" cy="859.4" r="2.9"/><circle cx="610.8" cy="862.3" r="2.9"/><circle cx="613.2" cy="846.9" r="2.9"/><circle cx="615.5" cy="856.8" r="2.9"/><circle cx="617.9" cy="836.2" r="2.9"/><circle cx="620.3" cy="840.1" r="2.9"/><circle cx="622.3" cy="823.7" r="2.9"/><circle cx="624.7" cy="818.0" r="2.9"/><circle cx="627.1" cy="825.0" r="2.9"/><circle cx="629.7" cy="820.7" r="2.9"/><circle cx="631.5" cy="804.9" r="2.9"/><circle cx="633.8" cy="810.1" r="2.9"/><circle cx="636.3" cy="805.6" r="2.9"/><circle cx="638.7" cy="816.3" r="2.9"/><circle cx="640.9" cy="811.5" r="2.9"/><circle cx="643.1" cy="802.1" r="2.9"/><circle cx="645.2" cy="796.6" r="2.9"/><circle cx="647.8" cy="791.6" r="2.9"/><circle cx="650.2" cy="794.5" r="2.9"/><circle cx="652.8" cy="786.6" r="2.9"/><circle cx="655.1" cy="790.8" r="2.9"/><circle cx="657.2" cy="781.9" r="2.9"/><circle cx="659.5" cy="781.3" r="2.9"/><circle cx="661.8" cy="786.0" r="2.9"/><circle cx="664.2" cy="779.0" r="2.9"/><circle cx="666.5" cy="782.8" r="2.9"/></g></svg></body></html>
